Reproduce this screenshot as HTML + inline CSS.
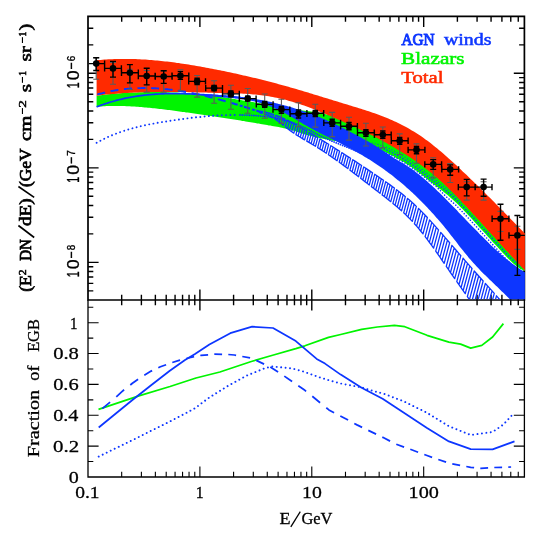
<!DOCTYPE html>
<html><head><meta charset="utf-8"><title>EGB spectrum</title>
<style>html,body{margin:0;padding:0;background:#fff}svg{display:block;will-change:transform}</style></head>
<body>
<svg width="545" height="535" viewBox="0 0 545 535">
<defs>
<clipPath id="ct"><rect x="88.7" y="17.099999999999998" width="436.2" height="282.20000000000005"/></clipPath>
<clipPath id="cb"><rect x="88.0" y="300.0" width="436.4" height="177.0"/></clipPath>
</defs>
<rect width="545" height="535" fill="#fff"/>
<path d="M121.68,16.4v5.3M121.68,294.7v10.6M141.39,16.4v5.3M141.39,294.7v10.6M155.37,16.4v5.3M155.37,294.7v10.6M166.21,16.4v5.3M166.21,294.7v10.6M175.07,16.4v5.3M175.07,294.7v10.6M182.56,16.4v5.3M182.56,294.7v10.6M189.05,16.4v5.3M189.05,294.7v10.6M194.78,16.4v5.3M194.78,294.7v10.6M199.90,16.4v10.6M199.90,289.4v21.2M233.58,16.4v5.3M233.58,294.7v10.6M253.29,16.4v5.3M253.29,294.7v10.6M267.27,16.4v5.3M267.27,294.7v10.6M278.11,16.4v5.3M278.11,294.7v10.6M286.97,16.4v5.3M286.97,294.7v10.6M294.46,16.4v5.3M294.46,294.7v10.6M300.95,16.4v5.3M300.95,294.7v10.6M306.67,16.4v5.3M306.67,294.7v10.6M311.79,16.4v10.6M311.79,289.4v21.2M345.48,16.4v5.3M345.48,294.7v10.6M365.18,16.4v5.3M365.18,294.7v10.6M379.16,16.4v5.3M379.16,294.7v10.6M390.01,16.4v5.3M390.01,294.7v10.6M398.87,16.4v5.3M398.87,294.7v10.6M406.36,16.4v5.3M406.36,294.7v10.6M412.85,16.4v5.3M412.85,294.7v10.6M418.57,16.4v5.3M418.57,294.7v10.6M423.69,16.4v10.6M423.69,289.4v21.2M457.38,16.4v5.3M457.38,294.7v10.6M477.08,16.4v5.3M477.08,294.7v10.6M491.06,16.4v5.3M491.06,294.7v10.6M501.91,16.4v5.3M501.91,294.7v10.6M510.77,16.4v5.3M510.77,294.7v10.6M518.26,16.4v5.3M518.26,294.7v10.6M88.0,290.84h5.3M524.4,290.84h-5.3M88.0,283.35h5.3M524.4,283.35h-5.3M88.0,277.02h5.3M524.4,277.02h-5.3M88.0,271.54h5.3M524.4,271.54h-5.3M88.0,266.71h5.3M524.4,266.71h-5.3M88.0,262.38h10.6M524.4,262.38h-10.6M88.0,233.92h5.3M524.4,233.92h-5.3M88.0,217.28h5.3M524.4,217.28h-5.3M88.0,205.47h5.3M524.4,205.47h-5.3M88.0,196.31h5.3M524.4,196.31h-5.3M88.0,188.82h5.3M524.4,188.82h-5.3M88.0,182.49h5.3M524.4,182.49h-5.3M88.0,177.01h5.3M524.4,177.01h-5.3M88.0,172.17h5.3M524.4,172.17h-5.3M88.0,167.85h10.6M524.4,167.85h-10.6M88.0,139.39h5.3M524.4,139.39h-5.3M88.0,122.74h5.3M524.4,122.74h-5.3M88.0,110.93h5.3M524.4,110.93h-5.3M88.0,101.77h5.3M524.4,101.77h-5.3M88.0,94.29h5.3M524.4,94.29h-5.3M88.0,87.96h5.3M524.4,87.96h-5.3M88.0,82.48h5.3M524.4,82.48h-5.3M88.0,77.64h5.3M524.4,77.64h-5.3M88.0,73.31h10.6M524.4,73.31h-10.6M88.0,44.86h5.3M524.4,44.86h-5.3M88.0,28.21h5.3M524.4,28.21h-5.3" stroke="#000" stroke-width="1.4" fill="none"/>
<path d="M121.68,477.0v-5.3M141.39,477.0v-5.3M155.37,477.0v-5.3M166.21,477.0v-5.3M175.07,477.0v-5.3M182.56,477.0v-5.3M189.05,477.0v-5.3M194.78,477.0v-5.3M199.90,477.0v-10.6M233.58,477.0v-5.3M253.29,477.0v-5.3M267.27,477.0v-5.3M278.11,477.0v-5.3M286.97,477.0v-5.3M294.46,477.0v-5.3M300.95,477.0v-5.3M306.67,477.0v-5.3M311.79,477.0v-10.6M345.48,477.0v-5.3M365.18,477.0v-5.3M379.16,477.0v-5.3M390.01,477.0v-5.3M398.87,477.0v-5.3M406.36,477.0v-5.3M412.85,477.0v-5.3M418.57,477.0v-5.3M423.69,477.0v-10.6M457.38,477.0v-5.3M477.08,477.0v-5.3M491.06,477.0v-5.3M501.91,477.0v-5.3M510.77,477.0v-5.3M518.26,477.0v-5.3M88.0,461.57h5.3M524.4,461.57h-5.3M88.0,446.14h10.6M524.4,446.14h-10.6M88.0,430.71h5.3M524.4,430.71h-5.3M88.0,415.28h10.6M524.4,415.28h-10.6M88.0,399.85h5.3M524.4,399.85h-5.3M88.0,384.42h10.6M524.4,384.42h-10.6M88.0,368.99h5.3M524.4,368.99h-5.3M88.0,353.56h10.6M524.4,353.56h-10.6M88.0,338.13h5.3M524.4,338.13h-5.3M88.0,322.70h10.6M524.4,322.70h-10.6M88.0,307.27h5.3M524.4,307.27h-5.3" stroke="#000" stroke-width="1.1" fill="none"/>
<path d="M88.0,300.0V16.4H524.4V300.0Z" stroke="#000" stroke-width="1.7" fill="none" stroke-linejoin="miter"/>
<g clip-path="url(#ct)">
<path d="M96.6,95.8 L98.6,95.5 L100.6,95.2 L102.6,95.0 L104.6,94.8 L106.6,94.6 L108.6,94.3 L110.6,94.1 L112.6,93.9 L114.6,93.8 L116.6,93.6 L118.6,93.4 L120.6,93.3 L122.6,93.1 L124.6,93.0 L126.7,92.9 L128.7,92.7 L130.7,92.6 L132.7,92.5 L134.7,92.4 L136.7,92.4 L138.7,92.3 L140.7,92.2 L142.7,92.2 L144.7,92.1 L146.7,92.1 L148.7,92.1 L150.7,92.1 L152.7,92.0 L154.7,92.0 L156.7,92.1 L158.7,92.1 L160.7,92.1 L162.7,92.1 L164.7,92.2 L166.7,92.2 L168.7,92.3 L170.7,92.4 L172.7,92.5 L174.7,92.5 L176.7,92.6 L178.7,92.7 L180.7,92.9 L182.7,93.0 L184.7,93.1 L186.8,93.3 L188.8,93.4 L190.8,93.6 L192.8,93.7 L194.8,93.9 L196.8,94.1 L198.8,94.3 L200.8,94.5 L202.8,94.7 L204.8,94.9 L206.8,95.1 L208.8,95.4 L210.8,95.6 L212.8,95.8 L214.8,96.1 L216.8,96.4 L218.8,96.6 L220.8,96.9 L222.8,97.2 L224.8,97.5 L226.8,97.8 L228.8,98.1 L230.8,98.4 L232.8,98.7 L234.8,99.0 L236.8,99.4 L238.8,99.7 L240.8,100.0 L242.8,100.4 L244.8,100.7 L246.9,101.0 L248.9,101.4 L250.9,101.7 L252.9,102.1 L254.9,102.4 L256.9,102.8 L258.9,103.1 L260.9,103.5 L262.9,103.8 L264.9,104.2 L266.9,104.5 L268.9,104.9 L270.9,105.2 L272.9,105.6 L274.9,105.9 L276.9,106.3 L278.9,106.6 L280.9,107.0 L282.9,107.3 L284.9,107.6 L286.9,108.0 L288.9,108.3 L290.9,108.6 L292.9,108.9 L294.9,109.3 L296.9,109.6 L298.9,109.9 L300.9,110.2 L302.9,110.4 L304.9,110.7 L307.0,111.0 L309.0,111.3 L311.0,111.5 L313.0,111.8 L315.0,112.1 L317.0,112.4 L319.0,112.7 L321.0,113.0 L323.0,113.4 L325.0,113.9 L327.0,114.4 L329.0,114.9 L331.0,115.6 L333.0,116.3 L335.0,117.1 L335.0,116.9 L336.2,117.4 L337.4,118.0 L338.6,118.5 L339.8,119.0 L341.0,119.5 L342.2,120.1 L343.4,120.6 L344.6,121.1 L345.8,121.7 L347.0,122.2 L348.2,122.8 L349.4,123.3 L350.6,123.9 L351.8,124.4 L353.0,125.0 L354.2,125.5 L355.4,126.1 L356.6,126.7 L357.8,127.2 L358.9,127.8 L360.1,128.4 L361.3,128.9 L362.5,129.5 L363.7,130.1 L364.9,130.7 L366.1,131.3 L367.3,131.9 L368.5,132.5 L369.7,133.1 L370.9,133.7 L372.1,134.3 L373.3,134.9 L374.5,135.5 L375.7,136.2 L376.9,136.8 L378.1,137.4 L379.3,138.0 L380.5,138.7 L381.7,139.3 L382.9,140.0 L384.1,140.6 L385.3,141.3 L386.5,141.9 L387.7,142.6 L388.9,143.3 L390.1,144.0 L391.3,144.6 L392.5,145.3 L393.7,146.0 L394.9,146.7 L396.1,147.4 L397.3,148.2 L398.5,148.9 L399.7,149.6 L400.9,150.3 L402.1,151.1 L403.3,151.8 L404.5,152.6 L405.7,153.3 L406.8,154.1 L408.0,154.9 L409.2,155.7 L410.4,156.5 L411.6,157.3 L412.8,158.1 L414.0,158.9 L415.2,159.7 L416.4,160.6 L417.6,161.4 L418.8,162.3 L420.0,163.1 L421.2,164.0 L422.4,164.9 L423.6,165.8 L424.8,166.7 L426.0,167.6 L427.2,168.5 L428.4,169.5 L429.6,170.4 L430.8,171.4 L432.0,172.4 L433.2,173.4 L434.4,174.4 L435.6,175.4 L436.8,176.4 L438.0,177.5 L439.2,178.5 L440.4,179.6 L441.6,180.7 L442.8,181.8 L444.0,182.9 L445.2,184.0 L446.4,185.1 L447.6,186.3 L448.8,187.5 L450.0,188.6 L451.2,189.8 L452.4,191.0 L453.6,192.2 L454.7,193.4 L455.9,194.6 L457.1,195.9 L458.3,197.1 L459.5,198.3 L460.7,199.6 L461.9,200.8 L463.1,202.1 L464.3,203.4 L465.5,204.7 L466.7,205.9 L467.9,207.2 L469.1,208.5 L470.3,209.8 L471.5,211.1 L472.7,212.4 L473.9,213.7 L475.1,215.0 L476.3,216.3 L477.5,217.7 L478.7,219.0 L479.9,220.3 L481.1,221.6 L482.3,222.9 L483.5,224.2 L484.7,225.6 L485.9,226.9 L487.1,228.2 L488.3,229.5 L489.5,230.9 L490.7,232.2 L491.9,233.5 L493.1,234.8 L494.3,236.2 L495.5,237.5 L496.7,238.8 L497.9,240.1 L499.1,241.4 L500.3,242.7 L501.5,244.0 L502.6,245.4 L503.8,246.7 L505.0,248.0 L506.2,249.3 L507.4,250.6 L508.6,251.9 L509.8,253.2 L511.0,254.4 L512.2,255.7 L513.4,257.0 L514.6,258.3 L515.8,259.6 L517.0,260.9 L518.2,262.2 L519.4,263.5 L520.6,264.7 L521.8,266.0 L523.0,267.3 L524.2,268.6 L525.4,269.9 L525.4,271.1 L523.7,270.5 L522.1,269.8 L520.4,268.9 L518.8,267.8 L517.1,266.6 L515.5,265.3 L513.8,263.9 L512.2,262.4 L510.5,260.8 L508.8,259.2 L507.2,257.5 L505.5,255.7 L503.9,253.9 L502.2,252.2 L500.6,250.4 L498.9,248.6 L497.3,246.8 L495.6,245.0 L493.9,243.2 L492.3,241.4 L490.6,239.6 L489.0,237.7 L487.3,235.9 L485.7,234.1 L484.0,232.3 L482.4,230.5 L480.7,228.7 L479.0,226.9 L477.4,225.1 L475.7,223.2 L474.1,221.4 L472.4,219.6 L470.8,217.8 L469.1,216.0 L467.5,214.3 L465.8,212.5 L464.1,210.8 L462.5,209.1 L460.8,207.4 L459.2,205.7 L457.5,204.1 L455.9,202.5 L454.2,200.9 L452.6,199.4 L450.9,197.9 L449.2,196.5 L447.6,195.1 L445.9,193.7 L444.3,192.4 L442.6,191.1 L441.0,189.8 L439.3,188.5 L437.7,187.2 L436.0,186.0 L434.3,184.7 L432.7,183.4 L431.0,182.2 L429.4,180.9 L427.7,179.5 L426.1,178.2 L424.4,176.9 L422.8,175.6 L421.1,174.3 L419.4,173.0 L417.8,171.7 L416.1,170.5 L414.5,169.2 L412.8,168.1 L411.2,166.9 L409.5,165.8 L407.9,164.7 L406.2,163.7 L404.5,162.6 L402.9,161.6 L401.2,160.7 L399.6,159.7 L397.9,158.8 L396.3,157.9 L394.6,157.0 L393.0,156.1 L391.3,155.2 L389.6,154.4 L388.0,153.6 L386.3,152.8 L384.7,152.1 L383.0,151.5 L381.4,151.0 L379.7,150.5 L378.1,150.0 L376.4,149.6 L374.7,149.2 L373.1,148.9 L371.4,148.5 L369.8,148.2 L368.1,147.8 L366.5,147.4 L364.8,147.1 L363.2,146.7 L361.5,146.3 L359.8,146.0 L358.2,145.6 L356.5,145.2 L354.9,144.9 L353.2,144.5 L351.6,144.2 L349.9,143.8 L348.3,143.5 L346.6,143.1 L344.9,142.8 L343.3,142.5 L341.6,142.2 L340.0,141.9 L338.3,141.6 L336.7,141.3 L335.0,141.0 L333.4,140.7 L331.7,140.4 L330.0,140.1 L328.4,139.8 L326.7,139.5 L325.1,139.2 L323.4,138.8 L321.8,138.5 L320.1,138.2 L318.5,137.8 L316.8,137.5 L315.1,137.1 L313.5,136.7 L311.8,136.3 L310.2,135.8 L308.5,135.4 L306.9,134.9 L305.2,134.4 L303.5,133.9 L301.9,133.4 L300.2,132.8 L298.6,132.3 L296.9,131.7 L295.3,131.2 L293.6,130.7 L292.0,130.2 L290.3,129.8 L288.6,129.3 L287.0,128.9 L285.3,128.5 L283.7,128.2 L282.0,127.8 L280.4,127.5 L278.7,127.1 L277.1,126.8 L275.4,126.5 L273.7,126.2 L272.1,125.9 L270.4,125.6 L268.8,125.4 L267.1,125.1 L265.5,124.8 L263.8,124.5 L262.2,124.2 L260.5,123.9 L258.8,123.6 L257.2,123.4 L255.5,123.1 L253.9,122.8 L252.2,122.5 L250.6,122.2 L248.9,122.0 L247.3,121.7 L245.6,121.4 L243.9,121.1 L242.3,120.9 L240.6,120.6 L239.0,120.3 L237.3,120.1 L235.7,119.8 L234.0,119.5 L232.4,119.3 L230.7,119.0 L229.0,118.7 L227.4,118.5 L225.7,118.2 L224.1,118.0 L222.4,117.7 L220.8,117.5 L219.1,117.2 L217.5,116.9 L215.8,116.7 L214.1,116.4 L212.5,116.2 L210.8,115.9 L209.2,115.7 L207.5,115.4 L205.9,115.2 L204.2,115.0 L202.6,114.7 L200.9,114.5 L199.2,114.2 L197.6,114.0 L195.9,113.8 L194.3,113.5 L192.6,113.3 L191.0,113.0 L189.3,112.8 L187.7,112.6 L186.0,112.4 L184.3,112.1 L182.7,111.9 L181.0,111.7 L179.4,111.4 L177.7,111.2 L176.1,111.0 L174.4,110.8 L172.8,110.6 L171.1,110.3 L169.4,110.1 L167.8,109.9 L166.1,109.7 L164.5,109.5 L162.8,109.3 L161.2,109.1 L159.5,108.9 L157.9,108.7 L156.2,108.5 L154.5,108.3 L152.9,108.2 L151.2,108.0 L149.6,107.8 L147.9,107.7 L146.3,107.5 L144.6,107.4 L143.0,107.2 L141.3,107.1 L139.6,107.0 L138.0,106.8 L136.3,106.7 L134.7,106.6 L133.0,106.5 L131.4,106.4 L129.7,106.3 L128.1,106.3 L126.4,106.2 L124.7,106.1 L123.1,106.1 L121.4,106.0 L119.8,106.0 L118.1,106.0 L116.5,106.0 L114.8,106.0 L113.2,106.0 L111.5,106.0 L109.8,106.0 L108.2,106.1 L106.5,106.1 L104.9,106.2 L103.2,106.3 L101.6,106.4 L99.9,106.5 L98.3,106.6 L96.6,106.7Z" fill="#00f400"/>
<path d="M372.1,143.1 L372.6,143.2 L373.2,143.3 L373.7,143.4 L374.3,143.5 L374.8,143.7 L375.3,143.8 L375.9,143.9 L376.4,144.0 L377.0,144.2 L377.5,144.3 L378.0,144.4 L378.6,144.6 L379.1,144.7 L379.7,144.9 L380.2,145.0 L380.7,145.2 L381.3,145.4 L381.8,145.5 L382.4,145.7 L382.9,145.9 L383.4,146.1 L384.0,146.3 L384.5,146.5 L385.1,146.7 L385.6,146.9 L386.1,147.1 L386.7,147.4 L387.2,147.6 L387.8,147.9 L388.3,148.1 L388.8,148.4 L389.4,148.6 L389.9,148.9 L390.5,149.2 L391.0,149.4 L391.5,149.7 L392.1,150.0 L392.6,150.3 L393.1,150.6 L393.7,150.9 L394.2,151.2 L394.8,151.5 L395.3,151.8 L395.8,152.1 L396.4,152.4 L396.9,152.6 L397.5,153.0 L398.0,153.3 L398.5,153.6 L399.1,153.9 L399.6,154.2 L400.2,154.5 L400.7,154.8 L401.2,155.1 L401.8,155.4 L402.3,155.7 L402.9,156.0 L403.4,156.4 L403.9,156.7 L404.5,157.0 L405.0,157.3 L405.6,157.7 L406.1,158.0 L406.6,158.3 L407.2,158.7 L407.7,159.0 L408.3,159.4 L408.8,159.7 L409.3,160.1 L409.9,160.4 L410.4,160.8 L411.0,161.2 L411.5,161.5 L412.0,161.9 L412.6,162.3 L413.1,162.7 L413.7,163.1 L414.2,163.4 L414.7,163.8 L415.3,164.2 L415.8,164.6 L416.4,165.0 L416.9,165.4 L417.4,165.9 L418.0,166.3 L418.5,166.7 L419.1,167.1 L419.6,167.5 L420.1,167.9 L420.7,168.4 L421.2,168.8 L421.8,169.2 L422.3,169.6 L422.8,170.1 L423.4,170.5 L423.9,170.9 L424.5,171.3 L425.0,171.8 L425.5,172.2 L426.1,172.6 L426.6,173.1 L427.2,173.5 L427.7,173.9 L428.2,174.4 L428.8,174.8 L429.3,175.2 L429.9,175.6 L430.4,176.1 L430.9,176.5 L431.5,176.9 L432.0,177.3 L432.6,177.7 L433.1,178.2 L433.6,178.6 L434.2,179.0 L434.7,179.4 L435.3,179.8 L435.8,180.2 L436.3,180.6 L436.9,181.0 L437.4,181.5 L438.0,181.9 L438.5,182.3 L439.0,182.7 L439.6,183.1 L440.1,183.5 L440.7,183.9 L441.2,184.4 L441.7,184.8 L442.3,185.2 L442.8,185.6 L443.4,186.0 L443.9,186.5 L444.4,186.9 L445.0,187.3 L445.5,187.8 L446.0,188.2 L446.6,188.6 L447.1,189.1 L447.7,189.5 L448.2,190.0 L448.7,190.4 L449.3,190.9 L449.8,191.4 L450.4,191.8 L450.9,192.3 L451.4,192.8 L452.0,193.3 L452.5,193.8 L453.1,194.3 L453.6,194.8 L454.1,195.3 L454.7,195.8 L455.2,196.3 L455.8,196.8 L456.3,197.3 L456.8,197.8 L457.4,198.4 L457.9,198.9 L458.5,199.4 L459.0,200.0 L459.5,200.5 L460.1,201.0 L460.6,201.6 L461.2,202.1 L461.7,202.7" fill="none" stroke="#0d36ff" stroke-width="1.1" stroke-linecap="round" stroke-dasharray="0.01,3.0" stroke-dashoffset="-0.00"/>
<path d="M368.3,144.8 L368.9,145.0 L369.4,145.1 L369.9,145.2 L370.5,145.3 L371.0,145.4 L371.6,145.5 L372.1,145.7 L372.6,145.8 L373.2,145.9 L373.7,146.0 L374.3,146.1 L374.8,146.3 L375.3,146.4 L375.9,146.5 L376.4,146.6 L377.0,146.8 L377.5,146.9 L378.0,147.0 L378.6,147.2 L379.1,147.3 L379.7,147.5 L380.2,147.6 L380.7,147.8 L381.3,148.0 L381.8,148.1 L382.4,148.3 L382.9,148.5 L383.4,148.7 L384.0,148.9 L384.5,149.1 L385.1,149.3 L385.6,149.5 L386.1,149.7 L386.7,150.0 L387.2,150.2 L387.8,150.5 L388.3,150.7 L388.8,151.0 L389.4,151.2 L389.9,151.5 L390.5,151.8 L391.0,152.0 L391.5,152.3 L392.1,152.6 L392.6,152.9 L393.1,153.2 L393.7,153.5 L394.2,153.8 L394.8,154.1 L395.3,154.4 L395.8,154.7 L396.4,155.0 L396.9,155.2 L397.5,155.6 L398.0,155.9 L398.5,156.2 L399.1,156.5 L399.6,156.8 L400.2,157.1 L400.7,157.4 L401.2,157.7 L401.8,158.0 L402.3,158.3 L402.9,158.6 L403.4,159.0 L403.9,159.3 L404.5,159.6 L405.0,159.9 L405.6,160.3 L406.1,160.6 L406.6,160.9 L407.2,161.3 L407.7,161.6 L408.3,162.0 L408.8,162.3 L409.3,162.7 L409.9,163.0 L410.4,163.4 L411.0,163.8 L411.5,164.1 L412.0,164.5 L412.6,164.9 L413.1,165.3 L413.7,165.7 L414.2,166.0 L414.7,166.4 L415.3,166.8 L415.8,167.2 L416.4,167.6 L416.9,168.0 L417.4,168.5 L418.0,168.9 L418.5,169.3 L419.1,169.7 L419.6,170.1 L420.1,170.5 L420.7,171.0 L421.2,171.4 L421.8,171.8 L422.3,172.2 L422.8,172.7 L423.4,173.1 L423.9,173.5 L424.5,173.9 L425.0,174.4 L425.5,174.8 L426.1,175.2 L426.6,175.7 L427.2,176.1 L427.7,176.5 L428.2,177.0 L428.8,177.4 L429.3,177.8 L429.9,178.2 L430.4,178.7 L430.9,179.1 L431.5,179.5 L432.0,179.9 L432.6,180.3 L433.1,180.8 L433.6,181.2 L434.2,181.6 L434.7,182.0 L435.3,182.4 L435.8,182.8 L436.3,183.2 L436.9,183.6 L437.4,184.1 L438.0,184.5 L438.5,184.9 L439.0,185.3 L439.6,185.7 L440.1,186.1 L440.7,186.5 L441.2,187.0 L441.7,187.4 L442.3,187.8 L442.8,188.2 L443.4,188.6 L443.9,189.1 L444.4,189.5 L445.0,189.9 L445.5,190.4 L446.0,190.8 L446.6,191.2 L447.1,191.7 L447.7,192.1 L448.2,192.6 L448.7,193.0 L449.3,193.5 L449.8,194.0 L450.4,194.4 L450.9,194.9 L451.4,195.4 L452.0,195.9 L452.5,196.4 L453.1,196.9 L453.6,197.4 L454.1,197.9 L454.7,198.4 L455.2,198.9 L455.8,199.4 L456.3,199.9 L456.8,200.4 L457.4,201.0 L457.9,201.5 L458.5,202.0 L459.0,202.6 L459.5,203.1 L460.1,203.6 L460.6,204.2 L461.2,204.7 L461.7,205.3 L462.2,205.8 L462.8,206.4 L463.3,206.9 L463.9,207.5 L464.4,208.1 L464.9,208.6 L465.5,209.2 L466.0,209.8 L466.6,210.3 L467.1,210.9 L467.6,211.5 L468.2,212.1 L468.7,212.6 L469.3,213.2 L469.8,213.8 L470.3,214.4 L470.9,215.0 L471.4,215.5 L472.0,216.1 L472.5,216.7 L473.0,217.3 L473.6,217.9 L474.1,218.5 L474.7,219.1 L475.2,219.7 L475.7,220.3 L476.3,220.8 L476.8,221.4 L477.4,222.0 L477.9,222.6 L478.4,223.2 L479.0,223.8 L479.5,224.4 L480.1,225.0 L480.6,225.6 L481.1,226.2 L481.7,226.8 L482.2,227.4 L482.8,227.9 L483.3,228.5 L483.8,229.1 L484.4,229.7 L484.9,230.3 L485.5,230.9 L486.0,231.5 L486.5,232.1 L487.1,232.7 L487.6,233.3 L488.2,233.8 L488.7,234.4 L489.2,235.0 L489.8,235.6 L490.3,236.2 L490.9,236.8 L491.4,237.4 L491.9,238.0 L492.5,238.6 L493.0,239.1 L493.6,239.7 L494.1,240.3 L494.6,240.9 L495.2,241.5 L495.7,242.1 L496.3,242.7 L496.8,243.3 L497.3,243.8 L497.9,244.4 L498.4,245.0 L498.9,245.6 L499.5,246.2 L500.0,246.8 L500.6,247.4 L501.1,247.9 L501.6,248.5 L502.2,249.1 L502.7,249.7 L503.3,250.3 L503.8,250.9 L504.3,251.5 L504.9,252.0 L505.4,252.6 L506.0,253.2 L506.5,253.8 L507.0,254.3 L507.6,254.9 L508.1,255.4 L508.7,256.0 L509.2,256.5 L509.7,257.1 L510.3,257.6 L510.8,258.1 L511.4,258.7 L511.9,259.2 L512.4,259.7 L513.0,260.2 L513.5,260.7 L514.1,261.1 L514.6,261.6 L515.1,262.1 L515.7,262.5 L516.2,262.9 L516.8,263.3 L517.3,263.8 L517.8,264.2 L518.4,264.5 L518.9,264.9 L519.5,265.3 L520.0,265.6 L520.5,265.9 L521.1,266.2 L521.6,266.5 L522.2,266.8 L522.7,267.1 L523.2,267.3 L523.8,267.5 L524.3,267.7 L524.9,267.9 L525.4,268.1" fill="none" stroke="#0d36ff" stroke-width="1.55" stroke-linecap="round" stroke-dasharray="0.01,3.0" stroke-dashoffset="-1.50"/>
<path d="M366.2,147.7 L366.7,147.8 L367.2,147.9 L367.8,148.0 L368.3,148.1 L368.9,148.3 L369.4,148.4 L369.9,148.5 L370.5,148.6 L371.0,148.7 L371.6,148.8 L372.1,149.0 L372.6,149.1 L373.2,149.2 L373.7,149.3 L374.3,149.4 L374.8,149.6 L375.3,149.7 L375.9,149.8 L376.4,149.9 L377.0,150.1 L377.5,150.2 L378.0,150.3 L378.6,150.5 L379.1,150.6 L379.7,150.8 L380.2,150.9 L380.7,151.1 L381.3,151.3 L381.8,151.4 L382.4,151.6 L382.9,151.8 L383.4,152.0 L384.0,152.2 L384.5,152.4 L385.1,152.6 L385.6,152.8 L386.1,153.0 L386.7,153.3 L387.2,153.5 L387.8,153.8 L388.3,154.0 L388.8,154.3 L389.4,154.5 L389.9,154.8 L390.5,155.1 L391.0,155.3 L391.5,155.6 L392.1,155.9 L392.6,156.2 L393.1,156.5 L393.7,156.8 L394.2,157.1 L394.8,157.4 L395.3,157.7 L395.8,158.0 L396.4,158.3 L396.9,158.5 L397.5,158.9 L398.0,159.2 L398.5,159.5 L399.1,159.8 L399.6,160.1 L400.2,160.4 L400.7,160.7 L401.2,161.0 L401.8,161.3 L402.3,161.6 L402.9,161.9 L403.4,162.3 L403.9,162.6 L404.5,162.9 L405.0,163.2 L405.6,163.6 L406.1,163.9 L406.6,164.2 L407.2,164.6 L407.7,164.9 L408.3,165.3 L408.8,165.6 L409.3,166.0 L409.9,166.3 L410.4,166.7 L411.0,167.1 L411.5,167.4 L412.0,167.8 L412.6,168.2 L413.1,168.6 L413.7,169.0 L414.2,169.3 L414.7,169.7 L415.3,170.1 L415.8,170.5 L416.4,170.9 L416.9,171.3 L417.4,171.8 L418.0,172.2 L418.5,172.6 L419.1,173.0 L419.6,173.4 L420.1,173.8 L420.7,174.3 L421.2,174.7 L421.8,175.1 L422.3,175.5 L422.8,176.0 L423.4,176.4 L423.9,176.8 L424.5,177.2 L425.0,177.7 L425.5,178.1 L426.1,178.5 L426.6,179.0 L427.2,179.4 L427.7,179.8 L428.2,180.3 L428.8,180.7 L429.3,181.1 L429.9,181.5 L430.4,182.0 L430.9,182.4 L431.5,182.8 L432.0,183.2 L432.6,183.6 L433.1,184.1 L433.6,184.5 L434.2,184.9 L434.7,185.3 L435.3,185.7 L435.8,186.1 L436.3,186.6 L436.9,187.2 L437.4,187.7 L438.0,188.3 L438.5,188.8 L439.0,189.4 L439.6,189.9 L440.1,190.4 L440.7,191.0 L441.2,191.6 L441.7,192.1 L442.3,192.7 L442.8,193.2 L443.4,193.8 L443.9,194.3 L444.4,194.9 L445.0,195.5 L445.5,196.0 L446.0,196.6 L446.6,197.0 L447.1,197.5 L447.7,197.9 L448.2,198.4 L448.7,198.8 L449.3,199.3 L449.8,199.8 L450.4,200.2 L450.9,200.7 L451.4,201.2 L452.0,201.7 L452.5,202.2 L453.1,202.7 L453.6,203.2 L454.1,203.7 L454.7,204.2 L455.2,204.7 L455.8,205.2 L456.3,205.7 L456.8,206.2 L457.4,206.8 L457.9,207.3 L458.5,207.8 L459.0,208.4 L459.5,208.9 L460.1,209.4 L460.6,210.0 L461.2,210.5 L461.7,211.1 L462.2,211.6 L462.8,212.2 L463.3,212.7 L463.9,213.3 L464.4,213.9 L464.9,214.4 L465.5,215.0 L466.0,215.6 L466.6,216.1 L467.1,216.7 L467.6,217.3 L468.2,217.9 L468.7,218.4 L469.3,219.0 L469.8,219.6 L470.3,220.2 L470.9,220.8 L471.4,221.3 L472.0,221.9 L472.5,222.5 L473.0,223.1 L473.6,223.7 L474.1,224.3 L474.7,224.9 L475.2,225.5 L475.7,226.1 L476.3,226.6 L476.8,227.2 L477.4,227.8 L477.9,228.4 L478.4,229.0 L479.0,229.6 L479.5,230.2 L480.1,230.8 L480.6,231.4 L481.1,232.0 L481.7,232.6 L482.2,233.2 L482.8,233.7 L483.3,234.3 L483.8,234.9 L484.4,235.5 L484.9,236.1 L485.5,236.7 L486.0,237.3 L486.5,237.9 L487.1,238.5 L487.6,239.1 L488.2,239.6 L488.7,240.2 L489.2,240.8 L489.8,241.4 L490.3,242.0 L490.9,242.6 L491.4,243.2 L491.9,243.8 L492.5,244.4 L493.0,244.9 L493.6,245.5 L494.1,246.1 L494.6,246.7 L495.2,247.3 L495.7,247.9 L496.3,248.5 L496.8,249.1 L497.3,249.6 L497.9,250.2 L498.4,250.8 L498.9,251.4 L499.5,252.0 L500.0,252.6 L500.6,253.2 L501.1,253.7 L501.6,254.3 L502.2,254.9 L502.7,255.5 L503.3,256.1 L503.8,256.7 L504.3,257.3 L504.9,257.8 L505.4,258.4 L506.0,259.0 L506.5,259.6 L507.0,260.1 L507.6,260.7 L508.1,261.2 L508.7,261.8 L509.2,262.3 L509.7,262.9 L510.3,263.4 L510.8,263.9 L511.4,264.5 L511.9,265.0 L512.4,265.5 L513.0,266.0 L513.5,266.5 L514.1,266.9 L514.6,267.4 L515.1,267.9 L515.7,268.3 L516.2,268.7 L516.8,269.1 L517.3,269.6 L517.8,270.0 L518.4,270.3 L518.9,270.7 L519.5,271.1 L520.0,271.4 L520.5,271.7 L521.1,272.0 L521.6,272.3 L522.2,272.6 L522.7,272.9 L523.2,273.1 L523.8,273.3 L524.3,273.5 L524.9,273.7 L525.4,273.9" fill="none" stroke="#0d36ff" stroke-width="1.55" stroke-linecap="round" stroke-dasharray="0.01,3.0" stroke-dashoffset="-3.00"/>
<path d="M96.6,60.3 L98.6,60.1 L100.5,59.9 L102.5,59.7 L104.4,59.6 L106.4,59.5 L108.3,59.3 L110.3,59.2 L112.3,59.2 L114.2,59.1 L116.2,59.0 L118.1,59.0 L120.1,58.9 L122.1,58.9 L124.0,58.9 L126.0,58.9 L127.9,58.9 L129.9,59.0 L131.8,59.0 L133.8,59.1 L135.8,59.1 L137.7,59.2 L139.7,59.3 L141.6,59.4 L143.6,59.5 L145.5,59.6 L147.5,59.7 L149.5,59.9 L151.4,60.0 L153.4,60.2 L155.3,60.4 L157.3,60.6 L159.3,60.7 L161.2,60.9 L163.2,61.2 L165.1,61.4 L167.1,61.6 L169.0,61.8 L171.0,62.1 L173.0,62.3 L174.9,62.6 L176.9,62.9 L178.8,63.1 L180.8,63.4 L182.8,63.7 L184.7,64.0 L186.7,64.3 L188.6,64.6 L190.6,64.9 L192.5,65.3 L194.5,65.6 L196.5,65.9 L198.4,66.3 L200.4,66.6 L202.3,67.0 L204.3,67.3 L206.2,67.7 L208.2,68.0 L210.2,68.4 L212.1,68.8 L214.1,69.2 L216.0,69.5 L218.0,69.9 L220.0,70.3 L221.9,70.7 L223.9,71.1 L225.8,71.5 L227.8,71.9 L229.7,72.3 L231.7,72.8 L233.7,73.2 L235.6,73.6 L237.6,74.1 L239.5,74.5 L241.5,74.9 L243.4,75.4 L245.4,75.8 L247.4,76.3 L249.3,76.7 L251.3,77.2 L253.2,77.7 L255.2,78.1 L257.2,78.6 L259.1,79.1 L261.1,79.6 L263.0,80.1 L265.0,80.6 L266.9,81.1 L268.9,81.6 L270.9,82.1 L272.8,82.6 L274.8,83.1 L276.7,83.6 L278.7,84.2 L280.7,84.7 L282.6,85.2 L284.6,85.8 L286.5,86.3 L288.5,86.8 L290.4,87.4 L292.4,88.0 L294.4,88.5 L296.3,89.1 L298.3,89.7 L300.2,90.2 L302.2,90.8 L304.1,91.4 L306.1,92.0 L308.1,92.6 L310.0,93.2 L312.0,93.8 L313.9,94.4 L315.9,95.0 L317.9,95.6 L319.8,96.2 L321.8,96.8 L323.7,97.4 L325.7,98.0 L327.6,98.6 L329.6,99.2 L331.6,99.8 L333.5,100.4 L335.5,101.0 L337.4,101.6 L339.4,102.2 L341.3,102.8 L343.3,103.4 L345.3,104.0 L347.2,104.6 L349.2,105.2 L351.1,105.8 L353.1,106.4 L355.1,107.0 L357.0,107.6 L359.0,108.2 L360.9,108.8 L362.9,109.4 L364.8,110.0 L366.8,110.7 L368.8,111.3 L370.7,112.0 L372.7,112.7 L374.6,113.3 L376.6,114.0 L378.6,114.8 L380.5,115.5 L382.5,116.2 L384.4,117.0 L386.4,117.8 L388.3,118.6 L390.3,119.4 L392.3,120.3 L394.2,121.2 L396.2,122.1 L398.1,123.0 L400.1,124.0 L402.0,125.0 L404.0,126.0 L406.0,127.0 L407.9,128.1 L409.9,129.2 L411.8,130.4 L413.8,131.5 L415.8,132.7 L417.7,134.0 L419.7,135.3 L421.6,136.6 L423.6,138.0 L425.5,139.4 L427.5,140.8 L429.5,142.3 L431.4,143.8 L433.4,145.4 L435.3,146.9 L437.3,148.5 L439.2,150.2 L441.2,151.8 L443.2,153.5 L445.1,155.2 L447.1,156.9 L449.0,158.7 L451.0,160.5 L453.0,162.2 L454.9,164.0 L456.9,165.8 L458.8,167.7 L460.8,169.5 L462.7,171.4 L464.7,173.2 L466.7,175.1 L468.6,177.0 L470.6,178.9 L472.5,180.8 L474.5,182.7 L476.5,184.6 L478.4,186.5 L480.4,188.4 L482.3,190.4 L484.3,192.3 L486.2,194.2 L488.2,196.2 L490.2,198.1 L492.1,200.1 L494.1,202.0 L496.0,204.0 L498.0,206.0 L499.9,208.0 L501.9,209.9 L503.9,211.9 L505.8,213.9 L507.8,215.9 L509.7,217.9 L511.7,219.9 L513.7,221.9 L515.6,223.9 L517.6,225.9 L519.5,227.9 L521.5,229.9 L523.4,231.9 L525.4,233.9 L525.4,271.1 L523.4,269.0 L521.5,266.9 L519.5,264.8 L517.6,262.7 L515.6,260.6 L513.7,258.5 L511.7,256.4 L509.7,254.3 L507.8,252.1 L505.8,250.0 L503.9,247.9 L501.9,245.7 L499.9,243.6 L498.0,241.5 L496.0,239.3 L494.1,237.1 L492.1,235.0 L490.2,232.8 L488.2,230.7 L486.2,228.5 L484.3,226.3 L482.3,224.2 L480.4,222.0 L478.4,219.8 L476.5,217.7 L474.5,215.6 L472.5,213.4 L470.6,211.3 L468.6,209.2 L466.7,207.1 L464.7,205.0 L462.7,202.9 L460.8,200.8 L458.8,198.8 L456.9,196.8 L454.9,194.8 L453.0,192.8 L451.0,190.8 L449.0,188.9 L447.1,187.0 L445.1,185.2 L443.2,183.3 L441.2,181.5 L439.2,179.8 L437.3,178.1 L435.3,176.4 L433.4,174.7 L431.4,173.1 L429.5,171.5 L427.5,170.0 L425.5,168.5 L423.6,167.0 L421.6,165.5 L419.7,164.1 L417.7,162.7 L415.8,161.3 L413.8,159.9 L411.8,158.6 L409.9,157.3 L407.9,156.0 L406.0,154.7 L404.0,153.5 L402.0,152.3 L400.1,151.1 L398.1,149.9 L396.2,148.7 L394.2,147.5 L392.3,146.4 L390.3,145.3 L388.3,144.2 L386.4,143.1 L384.4,142.0 L382.5,140.9 L380.5,139.9 L378.6,138.8 L376.6,137.8 L374.6,136.8 L372.7,135.8 L370.7,134.8 L368.8,133.8 L366.8,132.8 L364.8,131.9 L362.9,130.9 L360.9,129.9 L359.0,129.0 L357.0,128.1 L355.1,127.2 L353.1,126.2 L351.1,125.3 L349.2,124.4 L347.2,123.5 L345.3,122.7 L343.3,121.8 L341.3,120.9 L339.4,120.0 L337.4,119.2 L335.5,118.3 L333.5,117.5 L331.6,116.6 L329.6,115.8 L327.6,114.9 L325.7,114.1 L323.7,113.3 L321.8,112.5 L319.8,111.7 L317.9,110.9 L315.9,110.1 L313.9,109.3 L312.0,108.5 L310.0,107.8 L308.1,107.0 L306.1,106.3 L304.1,105.6 L302.2,104.9 L300.2,104.3 L298.3,103.6 L296.3,103.0 L294.4,102.4 L292.4,101.8 L290.4,101.2 L288.5,100.7 L286.5,100.1 L284.6,99.6 L282.6,99.2 L280.7,98.7 L278.7,98.3 L276.7,97.8 L274.8,97.4 L272.8,97.0 L270.9,96.7 L268.9,96.3 L266.9,96.0 L265.0,95.7 L263.0,95.4 L261.1,95.2 L259.1,95.0 L257.2,94.7 L255.2,94.5 L253.2,94.4 L251.3,94.2 L249.3,94.1 L247.4,93.9 L245.4,93.8 L243.4,93.7 L241.5,93.6 L239.5,93.5 L237.6,93.4 L235.6,93.4 L233.7,93.3 L231.7,93.3 L229.7,93.2 L227.8,93.2 L225.8,93.1 L223.9,93.1 L221.9,93.0 L220.0,93.0 L218.0,93.0 L216.0,92.9 L214.1,92.9 L212.1,92.8 L210.2,92.8 L208.2,92.7 L206.2,92.6 L204.3,92.6 L202.3,92.5 L200.4,92.5 L198.4,92.4 L196.5,92.4 L194.5,92.3 L192.5,92.3 L190.6,92.2 L188.6,92.2 L186.7,92.1 L184.7,92.1 L182.8,92.1 L180.8,92.0 L178.8,92.0 L176.9,92.0 L174.9,91.9 L173.0,91.9 L171.0,91.9 L169.0,91.9 L167.1,91.9 L165.1,91.9 L163.2,91.9 L161.2,91.9 L159.3,91.9 L157.3,91.9 L155.3,91.9 L153.4,92.0 L151.4,92.0 L149.5,92.0 L147.5,92.1 L145.5,92.1 L143.6,92.2 L141.6,92.2 L139.7,92.3 L137.7,92.4 L135.8,92.5 L133.8,92.6 L131.8,92.7 L129.9,92.8 L127.9,92.9 L126.0,93.0 L124.0,93.1 L122.1,93.2 L120.1,93.4 L118.1,93.5 L116.2,93.7 L114.2,93.9 L112.3,94.0 L110.3,94.2 L108.3,94.4 L106.4,94.6 L104.4,94.8 L102.5,95.0 L100.5,95.2 L98.6,95.5 L96.6,95.7Z" fill="#ff2a00"/>
<path d="M96.6,142.8 L97.5,142.3 L98.4,141.8 L99.3,141.3 L100.2,140.9 L101.0,140.4 L101.9,139.9 L102.8,139.5 L103.7,139.0 L104.6,138.6 L105.5,138.2 L106.4,137.8 L107.3,137.3 L108.2,136.9 L109.1,136.5 L109.9,136.2 L110.8,135.8 L111.7,135.4 L112.6,135.0 L113.5,134.7 L114.4,134.3 L115.3,133.9 L116.2,133.6 L117.1,133.3 L117.9,132.9 L118.8,132.6 L119.7,132.3 L120.6,132.0 L121.5,131.7 L122.4,131.4 L123.3,131.1 L124.2,130.8 L125.1,130.5 L125.9,130.2 L126.8,129.9 L127.7,129.6 L128.6,129.4 L129.5,129.1 L130.4,128.9 L131.3,128.6 L132.2,128.4 L133.1,128.1 L134.0,127.9 L134.8,127.6 L135.7,127.4 L136.6,127.2 L137.5,127.0 L138.4,126.7 L139.3,126.5 L140.2,126.3 L141.1,126.1 L142.0,125.9 L142.8,125.7 L143.7,125.5 L144.6,125.3 L145.5,125.1 L146.4,124.9 L147.3,124.8 L148.2,124.6 L149.1,124.4 L150.0,124.2 L150.8,124.1 L151.7,123.9 L152.6,123.7 L153.5,123.6 L154.4,123.4 L155.3,123.2 L156.2,123.1 L157.1,122.9 L158.0,122.8 L158.9,122.6 L159.7,122.5 L160.6,122.3 L161.5,122.2 L162.4,122.0 L163.3,121.9 L164.2,121.7 L165.1,121.6 L166.0,121.5 L166.9,121.3 L167.7,121.2 L168.6,121.0 L169.5,120.9 L170.4,120.8 L171.3,120.6 L172.2,120.5 L173.1,120.4 L174.0,120.2 L174.9,120.1 L175.7,120.0 L176.6,119.8 L177.5,119.7 L178.4,119.6 L179.3,119.5 L180.2,119.3 L181.1,119.2 L182.0,119.1 L182.9,119.0 L183.8,118.9 L184.6,118.7 L185.5,118.6 L186.4,118.5 L187.3,118.4 L188.2,118.3 L189.1,118.2 L190.0,118.1 L190.9,117.9 L191.8,117.8 L192.6,117.7 L193.5,117.6 L194.4,117.5 L195.3,117.4 L196.2,117.3 L197.1,117.2 L198.0,117.1 L198.9,117.0 L199.8,116.9 L200.6,116.9 L201.5,116.8 L202.4,116.7 L203.3,116.6 L204.2,116.5 L205.1,116.4 L206.0,116.3 L206.9,116.3 L207.8,116.2 L208.7,116.1 L209.5,116.0 L210.4,116.0 L211.3,115.9 L212.2,115.8 L213.1,115.8 L214.0,115.7 L214.9,115.7 L215.8,115.6 L216.7,115.5 L217.5,115.5 L218.4,115.4 L219.3,115.4 L220.2,115.3 L221.1,115.3 L222.0,115.3 L222.9,115.2 L223.8,115.2 L224.7,115.1 L225.5,115.1 L226.4,115.1 L227.3,115.1 L228.2,115.0 L229.1,115.0 L230.0,115.0 L230.9,115.0 L231.8,115.0 L232.7,114.9 L233.6,114.9 L234.4,114.9 L235.3,114.9 L236.2,114.9 L237.1,114.9 L238.0,114.9" fill="none" stroke="#0d36ff" stroke-width="1.95" stroke-linecap="round" stroke-dasharray="0.01,4.3"/>
<path d="M240.0,115.0 L240.8,115.0 L241.6,115.0 L242.4,115.0 L243.1,115.0 L243.9,115.0 L244.7,115.1 L245.5,115.1 L246.3,115.1 L247.1,115.1 L247.9,115.2 L248.6,115.2 L249.4,115.3 L250.2,115.3 L251.0,115.3 L251.8,115.4 L252.6,115.4 L253.4,115.5 L254.2,115.5 L254.9,115.6 L255.7,115.6 L256.5,115.7 L257.3,115.8 L258.1,115.8 L258.9,115.9 L259.7,116.0 L260.4,116.1 L261.2,116.1 L262.0,116.2 L262.8,116.3 L263.6,116.4 L264.4,116.5 L265.2,116.6 L265.9,116.7 L266.7,116.8 L267.5,116.9 L268.3,117.0 L269.1,117.1 L269.9,117.2 L270.7,117.3 L271.4,117.4 L272.2,117.6 L273.0,117.7 L273.8,117.8 L274.6,118.0 L275.4,118.1 L276.2,118.3 L276.9,118.4 L277.7,118.6 L278.5,118.7 L279.3,118.9 L280.1,119.1 L280.9,119.3 L281.7,119.5 L282.5,119.6 L283.2,119.8 L284.0,120.0 L284.8,120.2 L285.6,120.5 L286.4,120.7 L287.2,120.9 L288.0,121.1 L288.7,121.4 L289.5,121.6 L290.3,121.9 L291.1,122.1 L291.9,122.4 L292.7,122.7 L293.5,123.0 L294.2,123.2 L295.0,123.5 L295.8,123.8 L296.6,124.1 L297.4,124.5 L298.2,124.8 L299.0,125.1 L299.7,125.5 L300.5,125.8 L301.3,126.2 L302.1,126.5 L302.9,126.9 L303.7,127.3 L304.5,127.6 L305.3,128.0 L306.0,128.4 L306.8,128.8 L307.6,129.2 L308.4,129.6 L309.2,130.0 L310.0,130.4 L310.8,130.8 L311.5,131.2 L312.3,131.7 L313.1,132.1 L313.9,132.5 L314.7,132.9 L315.5,133.3 L316.3,133.7 L317.0,134.1 L317.8,134.5 L318.6,134.9 L319.4,135.3 L320.2,135.7 L321.0,136.1 L321.8,136.5 L322.5,136.9 L323.3,137.2 L324.1,137.6 L324.9,138.0 L325.7,138.3 L326.5,138.7 L327.3,139.1 L328.1,139.4 L328.8,139.8 L329.6,140.1 L330.4,140.4 L331.2,140.8 L332.0,141.1 L332.8,141.4 L333.6,141.8 L334.3,142.1 L335.1,142.4 L335.9,142.8 L336.7,143.1 L337.5,143.4 L338.3,143.7 L339.1,144.0 L339.8,144.3 L340.6,144.7 L341.4,145.0 L342.2,145.3 L343.0,145.6 L343.8,145.9 L344.6,146.2 L345.3,146.5 L346.1,146.8 L346.9,147.1 L347.7,147.5 L348.5,147.8 L349.3,148.1 L350.1,148.4 L350.8,148.7 L351.6,149.0 L352.4,149.3 L353.2,149.6 L354.0,150.0 L354.8,150.3 L355.6,150.6 L356.4,150.9 L357.1,151.2 L357.9,151.6 L358.7,151.9 L359.5,152.2 L360.3,152.6 L361.1,152.9 L361.9,153.2 L362.6,153.6 L363.4,153.9 L364.2,154.3 L365.0,154.6" fill="none" stroke="#0d36ff" stroke-width="1.8" stroke-linecap="round" stroke-dasharray="0.01,2.3"/>
<path d="M200.0,94.1 L201.5,94.1 L203.0,94.2 L204.5,94.2 L205.9,94.2 L207.4,94.3 L208.9,94.3 L210.4,94.4 L211.9,94.5 L213.4,94.5 L214.9,94.6 L216.3,94.7 L217.8,94.8 L219.3,94.9 L220.8,95.0 L222.3,95.1 L223.8,95.2 L225.3,95.3 L226.7,95.4 L228.2,95.5 L229.7,95.7 L231.2,95.8 L232.7,96.0 L234.2,96.1 L235.7,96.3 L237.1,96.4 L238.6,96.6 L240.1,96.8 L241.6,97.0 L243.1,97.2 L244.6,97.4 L246.1,97.6 L247.5,97.8 L249.0,98.0 L250.5,98.2 L252.0,98.5 L253.5,98.7 L255.0,98.9 L256.5,99.2 L257.9,99.5 L259.4,99.7 L260.9,100.0 L262.4,100.3 L263.9,100.6 L265.4,100.9 L266.9,101.2 L268.3,101.5 L269.8,101.8 L271.3,102.1 L272.8,102.5 L274.3,102.8 L275.8,103.2 L277.3,103.5 L278.7,103.9 L280.2,104.3 L281.7,104.7 L283.2,105.0 L284.7,105.4 L286.2,105.8 L287.7,106.3 L289.2,106.7 L290.6,107.1 L292.1,107.6 L293.6,108.0 L295.1,108.5 L296.6,108.9 L298.1,109.4 L299.6,109.9 L301.0,110.4 L302.5,110.9 L304.0,111.4 L305.5,111.9 L307.0,112.4 L308.5,113.0 L310.0,113.5 L311.4,114.1 L312.9,114.6 L314.4,115.2 L315.9,115.8 L317.4,116.4 L318.9,117.0 L320.4,117.6 L321.8,118.2 L323.3,118.8 L324.8,119.5 L326.3,120.1 L327.8,120.8 L329.3,121.5 L330.8,122.1 L332.2,122.8 L333.7,123.5 L335.2,124.2 L336.7,124.9 L338.2,125.7 L339.7,126.4 L341.2,127.1 L342.6,127.9 L344.1,128.6 L345.6,129.4 L347.1,130.1 L348.6,130.9 L350.1,131.7 L351.6,132.5 L353.0,133.2 L354.5,134.0 L356.0,134.8 L357.5,135.6 L359.0,136.4 L360.5,137.2 L362.0,138.0 L363.4,138.9 L364.9,139.7 L366.4,140.5 L367.9,141.3 L369.4,142.2 L370.9,143.1 L372.4,144.0 L373.8,144.8 L375.3,145.8 L376.8,146.7 L378.3,147.7 L379.8,148.6 L381.3,149.6 L382.8,150.6 L384.2,151.6 L385.7,152.6 L387.2,153.6 L388.7,154.6 L390.2,155.6 L391.7,156.6 L393.2,157.5 L394.6,158.4 L396.1,159.3 L397.6,160.2 L399.1,161.0 L400.6,161.9 L402.1,162.7 L403.6,163.6 L405.0,164.5 L406.5,165.4 L408.0,166.4 L409.5,167.4 L411.0,168.4 L412.5,169.5 L414.0,170.6 L415.4,171.7 L416.9,172.9 L418.4,174.0 L419.9,175.2 L421.4,176.5 L422.9,177.7 L424.4,179.0 L425.8,180.2 L427.3,181.6 L428.8,182.9 L430.3,184.2 L431.8,185.6 L433.3,187.0 L434.8,188.3 L436.2,189.8 L437.7,191.2 L439.2,192.6 L440.7,194.1 L442.2,195.5 L443.7,197.0 L445.2,198.5 L446.7,200.0 L448.1,201.5 L449.6,203.0 L451.1,204.5 L452.6,206.0 L454.1,207.5 L455.6,209.1 L457.1,210.6 L458.5,212.2 L460.0,213.7 L461.5,215.2 L463.0,216.8 L464.5,218.3 L466.0,219.9 L467.5,221.4 L468.9,223.0 L470.4,224.5 L471.9,226.0 L473.4,227.6 L474.9,229.1 L476.4,230.6 L477.9,232.1 L479.3,233.7 L480.8,235.2 L482.3,236.6 L483.8,238.1 L485.3,239.6 L486.8,241.1 L488.3,242.5 L489.7,243.9 L491.2,245.4 L492.7,246.8 L494.2,248.2 L495.7,249.5 L497.2,250.9 L498.7,252.2 L500.1,253.6 L501.6,254.9 L503.1,256.2 L504.6,257.4 L506.1,258.7 L507.6,259.9 L509.1,261.1 L510.5,262.3 L512.0,263.4 L513.5,264.5 L515.0,265.6 L516.5,266.7 L518.0,267.8 L519.5,268.8 L520.9,269.8 L522.4,270.7 L523.9,271.7 L525.4,272.6 L525.4,316.2 L523.9,314.5 L522.4,312.8 L520.9,311.1 L519.5,309.5 L518.0,307.8 L516.5,306.2 L515.0,304.7 L513.5,303.1 L512.0,301.6 L510.5,300.0 L509.1,298.5 L507.6,297.0 L506.1,295.5 L504.6,294.1 L503.1,292.6 L501.6,291.2 L500.1,289.7 L498.7,288.3 L497.2,286.8 L495.7,285.4 L494.2,284.0 L492.7,282.5 L491.2,281.1 L489.7,279.7 L488.3,278.2 L486.8,276.8 L485.3,275.3 L483.8,273.9 L482.3,272.4 L480.8,270.9 L479.3,269.3 L477.9,267.8 L476.4,266.2 L474.9,264.6 L473.4,263.0 L471.9,261.3 L470.4,259.6 L468.9,257.9 L467.5,256.1 L466.0,254.3 L464.5,252.5 L463.0,250.6 L461.5,248.8 L460.0,246.9 L458.5,245.0 L457.1,243.1 L455.6,241.1 L454.1,239.2 L452.6,237.3 L451.1,235.4 L449.6,233.5 L448.1,231.6 L446.7,229.8 L445.2,227.9 L443.7,226.1 L442.2,224.3 L440.7,222.6 L439.2,220.8 L437.7,219.1 L436.2,217.4 L434.8,215.7 L433.3,214.0 L431.8,212.4 L430.3,210.8 L428.8,209.2 L427.3,207.6 L425.8,206.0 L424.4,204.5 L422.9,203.0 L421.4,201.5 L419.9,200.0 L418.4,198.5 L416.9,197.1 L415.4,195.6 L414.0,194.2 L412.5,192.8 L411.0,191.4 L409.5,190.1 L408.0,188.7 L406.5,187.4 L405.0,186.1 L403.6,184.8 L402.1,183.6 L400.6,182.3 L399.1,181.1 L397.6,179.9 L396.1,178.7 L394.6,177.5 L393.2,176.3 L391.7,175.1 L390.2,174.0 L388.7,172.9 L387.2,171.8 L385.7,170.7 L384.2,169.6 L382.8,168.5 L381.3,167.5 L379.8,166.5 L378.3,165.4 L376.8,164.4 L375.3,163.4 L373.8,162.5 L372.4,161.5 L370.9,160.6 L369.4,159.6 L367.9,158.7 L366.4,157.8 L364.9,156.9 L363.4,156.0 L362.0,155.1 L360.5,154.3 L359.0,153.4 L357.5,152.6 L356.0,151.8 L354.5,150.9 L353.0,150.1 L351.6,149.3 L350.1,148.5 L348.6,147.7 L347.1,146.9 L345.6,146.1 L344.1,145.4 L342.6,144.6 L341.2,143.8 L339.7,143.1 L338.2,142.3 L336.7,141.5 L335.2,140.8 L333.7,140.0 L332.2,139.3 L330.8,138.5 L329.3,137.8 L327.8,137.0 L326.3,136.2 L324.8,135.5 L323.3,134.7 L321.8,134.0 L320.4,133.2 L318.9,132.4 L317.4,131.6 L315.9,130.9 L314.4,130.1 L312.9,129.3 L311.4,128.5 L310.0,127.7 L308.5,126.9 L307.0,126.0 L305.5,125.2 L304.0,124.4 L302.5,123.5 L301.0,122.6 L299.6,121.8 L298.1,120.9 L296.6,120.0 L295.1,119.1 L293.6,118.2 L292.1,117.3 L290.6,116.5 L289.2,115.6 L287.7,114.7 L286.2,113.9 L284.7,113.1 L283.2,112.3 L281.7,111.5 L280.2,110.8 L278.7,110.1 L277.3,109.4 L275.8,108.7 L274.3,108.0 L272.8,107.4 L271.3,106.8 L269.8,106.2 L268.3,105.6 L266.9,105.1 L265.4,104.5 L263.9,104.0 L262.4,103.6 L260.9,103.1 L259.4,102.7 L257.9,102.3 L256.5,101.9 L255.0,101.6 L253.5,101.2 L252.0,100.9 L250.5,100.6 L249.0,100.3 L247.5,100.0 L246.1,99.8 L244.6,99.6 L243.1,99.3 L241.6,99.1 L240.1,98.9 L238.6,98.8 L237.1,98.6 L235.7,98.4 L234.2,98.3 L232.7,98.1 L231.2,98.0 L229.7,97.9 L228.2,97.7 L226.7,97.6 L225.3,97.5 L223.8,97.4 L222.3,97.3 L220.8,97.2 L219.3,97.1 L217.8,96.9 L216.3,96.8 L214.9,96.7 L213.4,96.6 L211.9,96.5 L210.4,96.3 L208.9,96.2 L207.4,96.0 L205.9,95.9 L204.5,95.7 L203.0,95.6 L201.5,95.4 L200.0,95.2Z" fill="#0d36ff"/>
<path d="M96.6,106.9 L97.5,106.5 L98.5,106.2 L99.4,105.8 L100.3,105.5 L101.3,105.1 L102.2,104.8 L103.1,104.5 L104.1,104.1 L105.0,103.8 L105.9,103.5 L106.9,103.2 L107.8,102.9 L108.7,102.6 L109.7,102.3 L110.6,102.0 L111.5,101.8 L112.5,101.5 L113.4,101.2 L114.3,101.0 L115.3,100.7 L116.2,100.4 L117.1,100.2 L118.1,100.0 L119.0,99.7 L119.9,99.5 L120.9,99.3 L121.8,99.1 L122.7,98.8 L123.7,98.6 L124.6,98.4 L125.5,98.2 L126.5,98.0 L127.4,97.8 L128.3,97.7 L129.3,97.5 L130.2,97.3 L131.1,97.1 L132.1,97.0 L133.0,96.8 L133.9,96.7 L134.9,96.5 L135.8,96.4 L136.7,96.2 L137.7,96.1 L138.6,95.9 L139.5,95.8 L140.5,95.7 L141.4,95.6 L142.3,95.4 L143.3,95.3 L144.2,95.2 L145.1,95.1 L146.1,95.0 L147.0,94.9 L147.9,94.8 L148.9,94.7 L149.8,94.6 L150.7,94.6 L151.7,94.5 L152.6,94.4 L153.5,94.3 L154.5,94.3 L155.4,94.2 L156.3,94.1 L157.3,94.1 L158.2,94.0 L159.1,94.0 L160.1,93.9 L161.0,93.9 L161.9,93.9 L162.9,93.8 L163.8,93.8 L164.7,93.7 L165.7,93.7 L166.6,93.7 L167.5,93.7 L168.5,93.7 L169.4,93.6 L170.3,93.6 L171.3,93.6 L172.2,93.6 L173.1,93.6 L174.1,93.6 L175.0,93.6 L175.9,93.6 L176.9,93.6 L177.8,93.6 L178.7,93.6 L179.7,93.6 L180.6,93.7 L181.5,93.7 L182.5,93.7 L183.4,93.7 L184.3,93.7 L185.3,93.8 L186.2,93.8 L187.1,93.8 L188.1,93.9 L189.0,93.9 L189.9,93.9 L190.9,94.0 L191.8,94.0 L192.7,94.1 L193.7,94.1 L194.6,94.2 L195.5,94.2 L196.5,94.3 L197.4,94.3 L198.3,94.4 L199.3,94.4 L200.2,94.5 L201.1,94.5 L202.1,94.6 L203.0,94.6 L203.9,94.7 L204.9,94.8 L205.8,94.8 L206.7,94.9 L207.7,95.0 L208.6,95.0 L209.5,95.1 L210.5,95.2 L211.4,95.2 L212.3,95.3 L213.3,95.4 L214.2,95.5 L215.1,95.5 L216.1,95.6 L217.0,95.7 L217.9,95.8 L218.9,95.8 L219.8,95.9 L220.7,96.0 L221.7,96.1 L222.6,96.2 L223.5,96.2 L224.5,96.3 L225.4,96.4 L226.3,96.5 L227.3,96.6 L228.2,96.7 L229.1,96.7 L230.1,96.8 L231.0,96.9 L231.9,97.0 L232.9,97.1 L233.8,97.1 L234.7,97.2 L235.7,97.3 L236.6,97.4 L237.5,97.5 L238.5,97.6 L239.4,97.6 L240.3,97.7 L241.3,97.8 L242.2,97.9 L243.1,98.0 L244.1,98.0 L245.0,98.1" fill="none" stroke="#0d36ff" stroke-width="1.7"/>
<path d="M96.6,94.7 L97.4,94.4 L98.3,94.2 L99.1,93.9 L99.9,93.7 L100.8,93.5 L101.6,93.3 L102.5,93.1 L103.3,92.9 L104.1,92.7 L105.0,92.5 L105.8,92.3 L106.6,92.1 L107.5,91.9 L108.3,91.7 L109.1,91.5 L110.0,91.4 L110.8,91.2 L111.6,91.0 L112.5,90.9 L113.3,90.7 L114.2,90.6 L115.0,90.4 L115.8,90.3 L116.7,90.2 L117.5,90.0 L118.3,89.9 L119.2,89.8 L120.0,89.7 L120.8,89.5 L121.7,89.4 L122.5,89.3 L123.3,89.2 L124.2,89.1 L125.0,89.0 L125.9,89.0 L126.7,88.9 L127.5,88.8 L128.4,88.7 L129.2,88.6 L130.0,88.6 L130.9,88.5 L131.7,88.5 L132.5,88.4 L133.4,88.3 L134.2,88.3 L135.0,88.3 L135.9,88.2 L136.7,88.2 L137.6,88.1 L138.4,88.1 L139.2,88.1 L140.1,88.1 L140.9,88.1 L141.7,88.0 L142.6,88.0 L143.4,88.0 L144.2,88.0 L145.1,88.0 L145.9,88.0 L146.8,88.0 L147.6,88.0 L148.4,88.1 L149.3,88.1 L150.1,88.1 L150.9,88.1 L151.8,88.1 L152.6,88.2 L153.4,88.2 L154.3,88.3 L155.1,88.3 L155.9,88.3 L156.8,88.4 L157.6,88.4 L158.5,88.5 L159.3,88.6 L160.1,88.6 L161.0,88.7 L161.8,88.7 L162.6,88.8 L163.5,88.9 L164.3,89.0 L165.1,89.1 L166.0,89.1 L166.8,89.2 L167.6,89.3 L168.5,89.4 L169.3,89.5 L170.2,89.6 L171.0,89.7 L171.8,89.8 L172.7,89.9 L173.5,90.0 L174.3,90.1 L175.2,90.2 L176.0,90.4 L176.8,90.5 L177.7,90.6 L178.5,90.7 L179.3,90.8 L180.2,91.0 L181.0,91.1 L181.9,91.2 L182.7,91.4 L183.5,91.5 L184.4,91.7 L185.2,91.8 L186.0,92.0 L186.9,92.1 L187.7,92.3 L188.5,92.4 L189.4,92.6 L190.2,92.7 L191.1,92.9 L191.9,93.1 L192.7,93.2 L193.6,93.4 L194.4,93.6 L195.2,93.7 L196.1,93.9 L196.9,94.1 L197.7,94.3 L198.6,94.4 L199.4,94.6 L200.2,94.8 L201.1,95.0 L201.9,95.2 L202.8,95.4 L203.6,95.6 L204.4,95.8 L205.3,96.0 L206.1,96.2 L206.9,96.4 L207.8,96.6 L208.6,96.8 L209.4,97.0 L210.3,97.2 L211.1,97.4 L211.9,97.6 L212.8,97.8 L213.6,98.0 L214.5,98.3 L215.3,98.5 L216.1,98.7 L217.0,98.9 L217.8,99.1 L218.6,99.4 L219.5,99.6 L220.3,99.8 L221.1,100.0 L222.0,100.3 L222.8,100.5 L223.6,100.7 L224.5,101.0 L225.3,101.2 L226.2,101.4 L227.0,101.7 L227.8,101.9 L228.7,102.1 L229.5,102.4" fill="none" stroke="#0d36ff" stroke-width="1.9" stroke-dasharray="8,5.6" stroke-dashoffset="-0.8"/>
<path d="M231.5,103.0 L231.7,103.0 L231.9,103.1 L232.1,103.1 L232.3,103.2 L232.5,103.2 L232.7,103.3 L232.8,103.4 L233.0,103.4 L233.2,103.5 L233.4,103.5 L233.6,103.6 L233.8,103.6 L234.0,103.7 L234.2,103.8 L234.4,103.8 L234.6,103.9 L234.8,103.9 L235.0,104.0 L235.1,104.0 L235.3,104.1 L235.5,104.2 L235.7,104.2 L235.9,104.3 L236.1,104.3 L236.3,104.4 L236.5,104.4 L236.7,104.5 L236.9,104.6 L237.1,104.6 L237.3,104.7 L237.4,104.7 L237.6,104.8 L237.8,104.8 L238.0,104.9 L238.2,105.0 L238.4,105.0 L238.6,105.1 L238.8,105.1 L239.0,105.2 L239.2,105.3 L239.4,105.3 L239.6,105.4 L239.7,105.4 L239.9,105.5 L240.1,105.5 L240.3,105.6 L240.5,105.7 L240.7,105.7 L240.9,105.8 L241.1,105.8 L241.3,105.9 L241.5,106.0 L241.7,106.0 L241.9,106.1 L242.1,106.1 L242.2,106.2 L242.4,106.2 L242.6,106.3 L242.8,106.4 L243.0,106.4 L243.2,106.5 L243.4,106.5 L243.6,106.6 L243.8,106.7 L244.0,106.7 L244.2,106.8 L244.4,106.8 L244.5,106.9 L244.7,107.0 L244.9,107.0 L245.1,107.1 L245.3,107.1 L245.5,107.2 L245.7,107.3 L245.9,107.3 L246.1,107.4 L246.3,107.4 L246.5,107.5 L246.7,107.5 L246.8,107.6 L247.0,107.7 L247.2,107.7 L247.4,107.8 L247.6,107.8 L247.8,107.9 L248.0,108.0 L248.2,108.0 L248.4,108.1 L248.6,108.1 L248.8,108.2 L249.0,108.3 L249.1,108.3 L249.3,108.4 L249.5,108.4 L249.7,108.5 L249.9,108.6 L250.1,108.6 L250.3,108.7 L250.5,108.8 L250.7,108.8 L250.9,108.9 L251.1,108.9 L251.3,109.0 L251.4,109.1 L251.6,109.1 L251.8,109.2 L252.0,109.2 L252.2,109.3 L252.4,109.4 L252.6,109.4 L252.8,109.5 L253.0,109.5 L253.2,109.6 L253.4,109.7 L253.6,109.7 L253.8,109.8 L253.9,109.8 L254.1,109.9 L254.3,110.0 L254.5,110.0 L254.7,110.1 L254.9,110.1 L255.1,110.2 L255.3,110.3 L255.5,110.3 L255.7,110.4 L255.9,110.5 L256.1,110.5 L256.2,110.6 L256.4,110.6 L256.6,110.7 L256.8,110.8 L257.0,110.8 L257.2,110.9 L257.4,110.9 L257.6,111.0 L257.8,111.1 L258.0,111.1 L258.2,111.2 L258.4,111.2 L258.5,111.3 L258.7,111.4 L258.9,111.4 L259.1,111.5 L259.3,111.6 L259.5,111.6 L259.7,111.7 L259.9,111.7 L260.1,111.8 L260.3,111.9 L260.5,111.9 L260.7,112.0 L260.8,112.0 L261.0,112.1 L261.2,112.2 L261.4,112.2 L261.6,112.3 L261.8,112.4 L262.0,112.4" fill="none" stroke="#0d36ff" stroke-width="2.0" stroke-dasharray="6.5,2.3,3,1.6"/>
<path d="M260.44,111.10L259.99,112.80M260.44,111.10L262.64,111.51M259.99,112.80L262.13,113.43M262.64,111.51L262.13,113.43M264.83,111.98L264.27,114.07M264.83,111.98L267.02,112.52M264.27,114.07L266.42,114.76M267.02,112.52L266.42,114.76M267.02,112.52L269.22,113.12M266.42,114.76L268.57,115.56M269.22,113.12L268.57,115.56M269.22,113.12L271.43,113.80M268.57,115.56L270.71,116.50M271.43,113.80L270.71,116.50M271.43,113.80L273.65,114.54M270.71,116.50L272.83,117.61M273.65,114.54L272.83,117.61M275.90,115.34L274.94,118.92M275.90,115.34L278.15,116.21M274.94,118.92L277.03,120.37M278.15,116.21L277.03,120.37M278.15,116.21L280.41,117.14M277.03,120.37L279.12,121.93M280.41,117.14L279.12,121.93M280.41,117.14L282.67,118.11M279.12,121.93L281.21,123.57M282.67,118.11L281.21,123.57M282.67,118.11L284.93,119.14M281.21,123.57L283.29,125.25M284.93,119.14L283.29,125.25M287.18,120.20L285.38,126.93M287.18,120.20L289.43,121.31M285.38,126.93L287.47,128.59M289.43,121.31L287.47,128.59M289.43,121.31L291.65,122.44M287.47,128.59L289.58,130.18M291.65,122.44L289.58,130.18M291.65,122.44L293.87,123.60M289.58,130.18L291.70,131.70M293.87,123.60L291.70,131.70M293.87,123.60L296.07,124.79M291.70,131.70L293.82,133.17M296.07,124.79L293.82,133.17M298.26,126.00L295.96,134.58M298.26,126.00L300.44,127.23M295.96,134.58L298.11,135.94M300.44,127.23L298.11,135.94M300.44,127.23L302.62,128.48M298.11,135.94L300.27,137.27M302.62,128.48L300.27,137.27M302.62,128.48L304.79,129.75M300.27,137.27L302.43,138.57M304.79,129.75L302.43,138.57M304.79,129.75L306.96,131.03M302.43,138.57L304.60,139.86M306.96,131.03L304.60,139.86M309.13,132.32L306.77,141.13M309.13,132.32L311.29,133.62M306.77,141.13L308.94,142.40M311.29,133.62L308.94,142.40M311.29,133.62L313.46,134.93M308.94,142.40L311.12,143.67M313.46,134.93L311.12,143.67M313.46,134.93L315.63,136.25M311.12,143.67L313.29,144.97M315.63,136.25L313.29,144.97M315.63,136.25L317.80,137.58M313.29,144.97L315.46,146.28M317.80,137.58L315.46,146.28M319.97,138.91L317.63,147.63M319.97,138.91L322.14,140.26M317.63,147.63L319.80,149.00M322.14,140.26L319.80,149.00M322.14,140.26L324.32,141.60M319.80,149.00L321.97,150.39M324.32,141.60L321.97,150.39M324.32,141.60L326.50,142.96M321.97,150.39L324.13,151.80M326.50,142.96L324.13,151.80M326.50,142.96L328.68,144.32M324.13,151.80L326.29,153.24M328.68,144.32L326.29,153.24M330.87,145.69L328.45,154.70M330.87,145.69L333.05,147.06M328.45,154.70L330.61,156.17M333.05,147.06L330.61,156.17M333.05,147.06L335.24,148.44M330.61,156.17L332.76,157.67M335.24,148.44L332.76,157.67M335.24,148.44L337.42,149.83M332.76,157.67L334.92,159.18M337.42,149.83L334.92,159.18M337.42,149.83L339.61,151.22M334.92,159.18L337.07,160.71M339.61,151.22L337.07,160.71M341.80,152.62L339.22,162.26M341.80,152.62L344.00,154.02M339.22,162.26L341.37,163.82M344.00,154.02L341.37,163.82M344.00,154.02L346.19,155.44M341.37,163.82L343.52,165.39M346.19,155.44L343.52,165.39M346.19,155.44L348.38,156.85M343.52,165.39L345.67,166.97M348.38,156.85L345.67,166.97M348.38,156.85L350.57,158.28M345.67,166.97L347.82,168.57M350.57,158.28L347.82,168.57M352.77,159.71L349.96,170.18M352.77,159.71L354.96,161.14M349.96,170.18L352.11,171.79M354.96,161.14L352.11,171.79M354.96,161.14L357.16,162.58M352.11,171.79L354.25,173.42M357.16,162.58L354.25,173.42M357.16,162.58L359.35,164.03M354.25,173.42L356.40,175.05M359.35,164.03L356.40,175.05M359.35,164.03L361.55,165.48M356.40,175.05L358.55,176.69M361.55,165.48L358.55,176.69M363.75,166.94L360.69,178.33M363.75,166.94L365.94,168.40M360.69,178.33L362.84,179.98M365.94,168.40L362.84,179.98M365.94,168.40L368.14,169.87M362.84,179.98L364.98,181.64M368.14,169.87L364.98,181.64M368.14,169.87L370.33,171.34M364.98,181.64L367.13,183.29M370.33,171.34L367.13,183.29M370.33,171.34L372.52,172.81M367.13,183.29L369.27,184.95M372.52,172.81L369.27,184.95M374.72,174.30L371.42,186.61M374.72,174.30L376.91,175.78M371.42,186.61L373.57,188.26M376.91,175.78L373.57,188.26M376.91,175.78L379.10,177.28M373.57,188.26L375.71,189.92M379.10,177.28L375.71,189.92M379.10,177.28L381.29,178.77M375.71,189.92L377.86,191.57M381.29,178.77L377.86,191.57M381.29,178.77L383.48,180.28M377.86,191.57L380.01,193.23M383.48,180.28L380.01,193.23M385.67,181.81L382.16,194.88M385.67,181.81L387.85,183.34M382.16,194.88L384.32,196.55M387.85,183.34L384.32,196.55M387.85,183.34L390.04,184.90M384.32,196.55L386.47,198.23M390.04,184.90L386.47,198.23M390.04,184.90L392.23,186.48M386.47,198.23L388.62,199.93M392.23,186.48L388.62,199.93M392.23,186.48L394.41,188.09M388.62,199.93L390.78,201.65M394.41,188.09L390.78,201.65M396.60,189.73L392.93,203.41M396.60,189.73L398.79,191.40M392.93,203.41L395.09,205.20M398.79,191.40L395.09,205.20M398.79,191.40L400.97,193.10M395.09,205.20L397.24,207.03M400.97,193.10L397.24,207.03M400.97,193.10L403.16,194.85M397.24,207.03L399.40,208.90M403.16,194.85L399.40,208.90M403.16,194.85L405.35,196.64M399.40,208.90L401.55,210.83M405.35,196.64L401.55,210.83M407.54,198.47L403.70,212.81M407.54,198.47L409.74,200.36M403.70,212.81L405.85,214.85M409.74,200.36L405.85,214.85M409.74,200.36L411.93,202.30M405.85,214.85L408.00,216.95M411.93,202.30L408.00,216.95M411.93,202.30L414.13,204.29M408.00,216.95L410.15,219.13M414.13,204.29L410.15,219.13M414.13,204.29L416.33,206.35M410.15,219.13L412.30,221.39M416.33,206.35L412.30,221.39M418.53,208.47L414.44,223.72M418.53,208.47L420.73,210.65M414.44,223.72L416.58,226.14M420.73,210.65L416.58,226.14M420.73,210.65L422.94,212.89M416.58,226.14L418.72,228.65M422.94,212.89L418.72,228.65M422.94,212.89L425.16,215.19M418.72,228.65L420.86,231.24M425.16,215.19L420.86,231.24M425.16,215.19L427.37,217.54M420.86,231.24L422.99,233.91M427.37,217.54L422.99,233.91M429.59,219.94L425.12,236.65M429.59,219.94L431.82,222.38M425.12,236.65L427.24,239.46M431.82,222.38L427.24,239.46M431.82,222.38L434.04,224.85M427.24,239.46L429.36,242.32M434.04,224.85L429.36,242.32M434.04,224.85L436.27,227.36M429.36,242.32L431.48,245.22M436.27,227.36L431.48,245.22M436.27,227.36L438.50,229.89M431.48,245.22L433.60,248.18M438.50,229.89L433.60,248.18M440.73,232.44L435.71,251.16M440.73,232.44L442.96,235.01M435.71,251.16L437.83,254.17M442.96,235.01L437.83,254.17M442.96,235.01L445.19,237.59M437.83,254.17L439.94,257.21M445.19,237.59L439.94,257.21M445.19,237.59L447.43,240.18M439.94,257.21L442.05,260.26M447.43,240.18L442.05,260.26M447.43,240.18L449.66,242.77M442.05,260.26L444.16,263.31M449.66,242.77L444.16,263.31M451.90,245.36L446.27,266.38M451.90,245.36L454.13,247.95M446.27,266.38L448.38,269.45M454.13,247.95L448.38,269.45M454.13,247.95L456.37,250.54M448.38,269.45L450.48,272.51M456.37,250.54L450.48,272.51M456.37,250.54L458.61,253.12M450.48,272.51L452.59,275.58M458.61,253.12L452.59,275.58M458.61,253.12L460.84,255.70M452.59,275.58L454.70,278.63M460.84,255.70L454.70,278.63M463.07,258.27L456.80,281.68M463.07,258.27L465.31,260.84M456.80,281.68L458.91,284.71M465.31,260.84L458.91,284.71M465.31,260.84L467.54,263.39M458.91,284.71L461.02,287.72M467.54,263.39L461.02,287.72M467.54,263.39L469.76,265.94M461.02,287.72L463.13,290.71M469.76,265.94L463.13,290.71M469.76,265.94L471.99,268.47M463.13,290.71L465.24,293.68M471.99,268.47L465.24,293.68M474.22,271.00L467.35,296.62M474.22,271.00L476.44,273.51M467.35,296.62L469.47,299.56M476.44,273.51L469.47,299.56M476.44,273.51L478.67,276.02M469.47,299.56L471.58,302.47M478.67,276.02L471.58,302.47M478.67,276.02L480.90,278.51M471.58,302.47L473.70,305.38M480.90,278.51L473.70,305.38M480.90,278.51L483.13,280.99M473.70,305.38L475.82,308.27M483.13,280.99L475.82,308.27M485.35,283.46L477.93,311.16M485.35,283.46L487.58,285.92M477.93,311.16L480.05,314.04M487.58,285.92L480.05,314.04M487.58,285.92L489.81,288.39M480.05,314.04L482.17,316.92M489.81,288.39L482.17,316.92M489.81,288.39L492.04,290.85M482.17,316.92L484.28,319.80M492.04,290.85L484.28,319.80M492.04,290.85L494.26,293.32M484.28,319.80L486.40,322.68M494.26,293.32L486.40,322.68M496.49,295.81L488.52,325.57M496.49,295.81L498.71,298.31M488.52,325.57L490.64,328.46M498.71,298.31L490.64,328.46M498.71,298.31L500.94,300.83M490.64,328.46L492.75,331.37M500.94,300.83L492.75,331.37M500.94,300.83L503.16,303.37M492.75,331.37L494.87,334.30M503.16,303.37L494.87,334.30M503.16,303.37L505.38,305.94M494.87,334.30L496.99,337.24M505.38,305.94L496.99,337.24" fill="none" stroke="#0d36ff" stroke-width="1.3" stroke-linecap="round"/>
</g>
<g clip-path="url(#ct)" fill="none">
<path d="M96.2,57.7V79.3M93.2,57.7h6M93.2,79.3h6M113.0,62.5V84.3M110.0,62.5h6M110.0,84.3h6M129.9,69.2V89.5M126.9,69.2h6M126.9,89.5h6M146.7,70.5V92.1M143.7,70.5h6M143.7,92.1h6M163.7,71.0V92.1M160.7,71.0h6M160.7,92.1h6M180.4,69.9V90.8M177.4,69.9h6M177.4,90.8h6M197.1,75.5V97.1M194.1,75.5h6M194.1,97.1h6M214.1,80.8V103.3M211.1,80.8h6M211.1,103.3h6M230.9,85.2V109.3M227.9,85.2h6M227.9,109.3h6M247.7,88.5V113.2M244.7,88.5h6M244.7,113.2h6M264.7,94.0V118.2M261.7,94.0h6M261.7,118.2h6M281.4,99.2V123.4M278.4,99.2h6M278.4,123.4h6M298.5,102.8V126.8M295.5,102.8h6M295.5,126.8h6M315.3,104.2V127.1M312.3,104.2h6M312.3,127.1h6M332.2,112.4V136.6M329.2,112.4h6M329.2,136.6h6M349.0,117.2V140.1M346.0,117.2h6M346.0,140.1h6M365.9,123.3V146.0M362.9,123.3h6M362.9,146.0h6M382.8,127.0V147.9M379.8,127.0h6M379.8,147.9h6M399.7,133.9V154.5M396.7,133.9h6M396.7,154.5h6M416.5,143.9V163.3M413.5,143.9h6M413.5,163.3h6M433.2,157.7V177.9M430.2,157.7h6M430.2,177.9h6M450.2,163.5V182.5M447.2,163.5h6M447.2,182.5h6M466.7,181.7V200.1M463.7,181.7h6M463.7,200.1h6M483.6,181.7V200.1M480.6,181.7h6M480.6,200.1h6M500.5,211.4V231.5M497.5,211.4h6M497.5,231.5h6M517.4,226.3V249.4M514.4,226.3h6M514.4,249.4h6" stroke="#5a5a5a" stroke-width="1.1"/>
<path d="M96.2,57.7V70.5M93.2,57.7h6.0M93.2,70.5h6.0M87.8,63.6h16.8M87.8,60.4v6.4M104.6,60.4v6.4M113.0,61.4V77.1M110.0,61.4h6.0M110.0,77.1h6.0M104.6,68.4h16.8M104.6,65.2v6.4M121.4,65.2v6.4M129.9,64.6V82.9M126.9,64.6h6.0M126.9,82.9h6.0M121.5,72.7h16.8M121.5,69.5v6.4M138.3,69.5v6.4M146.7,68.3V84.9M143.7,68.3h6.0M143.7,84.9h6.0M138.3,76.0h16.8M138.3,72.8v6.4M155.1,72.8v6.4M163.7,70.7V83.4M160.7,70.7h6.0M160.7,83.4h6.0M155.3,76.5h16.8M155.3,73.3v6.4M172.1,73.3v6.4M180.4,71.6V79.4M177.7,71.6h5.4M177.7,79.4h5.4M172.0,75.7h16.8M172.0,72.5v6.4M188.8,72.5v6.4M197.1,78.3V84.5M194.4,78.3h5.4M194.4,84.5h5.4M188.7,81.4h16.8M188.7,78.2v6.4M205.5,78.2v6.4M214.1,85.5V90.7M211.4,85.5h5.4M211.4,90.7h5.4M205.7,88.1h16.8M205.7,84.9v6.4M222.5,84.9v6.4M230.9,91.0V96.8M228.2,91.0h5.4M228.2,96.8h5.4M222.5,93.9h16.8M222.5,90.7v6.4M239.3,90.7v6.4M247.7,96.2V101.0M245.0,96.2h5.4M245.0,101.0h5.4M239.3,98.6h16.8M239.3,95.4v6.4M256.1,95.4v6.4M264.7,101.5V107.3M262.0,101.5h5.4M262.0,107.3h5.4M256.3,104.4h16.8M256.3,101.2v6.4M273.1,101.2v6.4M281.4,106.4V113.2M278.7,106.4h5.4M278.7,113.2h5.4M273.0,109.6h16.8M273.0,106.4v6.4M289.8,106.4v6.4M298.5,110.0V118.0M295.8,110.0h5.4M295.8,118.0h5.4M290.1,113.7h16.8M290.1,110.5v6.4M306.9,110.5v6.4M315.3,110.4V116.6M312.6,110.4h5.4M312.6,116.6h5.4M306.9,113.3h16.8M306.9,110.1v6.4M323.7,110.1v6.4M332.2,119.2V126.4M329.5,119.2h5.4M329.5,126.4h5.4M323.8,122.9h16.8M323.8,119.7v6.4M340.6,119.7v6.4M349.0,122.5V129.7M346.3,122.5h5.4M346.3,129.7h5.4M340.6,126.2h16.8M340.6,123.0v6.4M357.4,123.0v6.4M365.9,129.6V136.2M363.2,129.6h5.4M363.2,136.2h5.4M357.5,132.8h16.8M357.5,129.6v6.4M374.3,129.6v6.4M382.8,131.0V138.2M380.1,131.0h5.4M380.1,138.2h5.4M374.4,134.7h16.8M374.4,131.5v6.4M391.2,131.5v6.4M399.7,137.5V144.3M397.0,137.5h5.4M397.0,144.3h5.4M391.3,140.7h16.8M391.3,137.5v6.4M408.1,137.5v6.4M416.5,146.5V153.7M413.8,146.5h5.4M413.8,153.7h5.4M408.1,149.9h16.8M408.1,146.7v6.4M424.9,146.7v6.4M433.2,159.6V169.4M430.2,159.6h6.0M430.2,169.4h6.0M424.8,164.4h16.8M424.8,161.2v6.4M441.6,161.2v6.4M450.2,164.9V175.3M447.2,164.9h6.0M447.2,175.3h6.0M441.8,169.4h16.8M441.8,166.2v6.4M458.6,166.2v6.4M466.7,179.4V195.9M463.7,179.4h6.0M463.7,195.9h6.0M458.3,187.1h16.8M458.3,183.9v6.4M475.1,183.9v6.4M483.6,179.1V196.3M480.6,179.1h6.0M480.6,196.3h6.0M475.2,187.1h16.8M475.2,183.9v6.4M492.0,183.9v6.4M500.5,204.2V240.3M497.5,204.2h6.0M497.5,240.3h6.0M492.1,218.7h16.8M492.1,215.5v6.4M508.9,215.5v6.4M517.4,215.5V275.4M514.4,215.5h6.0M514.4,275.4h6.0M509.0,235.4h16.8M509.0,232.2v6.4M525.8,232.2v6.4" stroke="#000" stroke-width="1.4"/>
<circle cx="96.2" cy="63.6" r="3.3" fill="#000"/>
<circle cx="113.0" cy="68.4" r="3.3" fill="#000"/>
<circle cx="129.9" cy="72.7" r="3.3" fill="#000"/>
<circle cx="146.7" cy="76.0" r="3.3" fill="#000"/>
<circle cx="163.7" cy="76.5" r="3.3" fill="#000"/>
<circle cx="180.4" cy="75.7" r="3.3" fill="#000"/>
<circle cx="197.1" cy="81.4" r="3.3" fill="#000"/>
<circle cx="214.1" cy="88.1" r="3.3" fill="#000"/>
<circle cx="230.9" cy="93.9" r="3.3" fill="#000"/>
<circle cx="247.7" cy="98.6" r="3.3" fill="#000"/>
<circle cx="264.7" cy="104.4" r="3.3" fill="#000"/>
<circle cx="281.4" cy="109.6" r="3.3" fill="#000"/>
<circle cx="298.5" cy="113.7" r="3.3" fill="#000"/>
<circle cx="315.3" cy="113.3" r="3.3" fill="#000"/>
<circle cx="332.2" cy="122.9" r="3.3" fill="#000"/>
<circle cx="349.0" cy="126.2" r="3.3" fill="#000"/>
<circle cx="365.9" cy="132.8" r="3.3" fill="#000"/>
<circle cx="382.8" cy="134.7" r="3.3" fill="#000"/>
<circle cx="399.7" cy="140.7" r="3.3" fill="#000"/>
<circle cx="416.5" cy="149.9" r="3.3" fill="#000"/>
<circle cx="433.2" cy="164.4" r="3.3" fill="#000"/>
<circle cx="450.2" cy="169.4" r="3.3" fill="#000"/>
<circle cx="466.7" cy="187.1" r="3.3" fill="#000"/>
<circle cx="483.6" cy="187.1" r="3.3" fill="#000"/>
<circle cx="500.5" cy="218.7" r="3.3" fill="#000"/>
<circle cx="517.4" cy="235.4" r="3.3" fill="#000"/>
</g>
<g clip-path="url(#cb)" fill="none" stroke-width="1.75" stroke-linejoin="round">
<path d="M98.5,409.4 L138.9,395.9 L170.0,386.5 L196.0,378.0 L219.9,372.0 L251.3,361.5 L273.5,355.0 L295.8,348.7 L304.9,345.8 L328.5,337.4 L340.7,334.5 L361.6,329.3 L377.3,327.0 L394.4,325.4 L404.8,326.7 L427.0,335.3 L448.9,342.1 L460.6,344.1 L470.7,348.1 L481.8,345.4 L492.6,337.0 L503.4,323.6" stroke="#00f400"/>
<path d="M98.7,427.5 L113.7,415.2 L132.4,400.0 L151.1,385.2 L169.8,370.8 L185.0,360.0 L195.0,353.9 L209.4,344.5 L230.3,333.2 L252.1,326.7 L273.0,328.0 L295.8,341.1 L316.7,358.9 L325.0,363.6 L340.7,374.6 L361.6,387.7 L382.6,398.7 L403.5,412.5 L427.0,427.9 L448.9,441.4 L470.7,449.1 L492.6,449.4 L514.5,441.4" stroke="#0d36ff"/>
<path d="M102.3,408.7 L110.1,402.2M116.3,396.8 L123.0,390.7 L124.1,389.8M130.3,385.0 L132.4,383.3 L138.1,379.3M144.3,375.2 L151.1,371.1 L152.1,370.6M158.3,367.8 L160.4,366.8 L166.1,364.7M172.3,362.5 L179.1,360.3 L180.1,360.1M186.3,358.5 L188.5,358.0 L194.1,356.7M200.3,355.5 L201.0,355.4 L208.1,354.8M214.3,354.2 L214.6,354.2 L222.1,354.3M228.3,354.5 L234.3,355.0 L236.1,355.3M242.3,356.5 L250.1,357.9M256.3,360.4 L264.1,364.1M270.3,367.1 L278.1,372.1M284.3,376.1 L292.1,381.5M298.3,385.8 L304.9,390.3 L306.1,391.3M312.3,396.3 L320.1,402.7M326.3,407.8 L328.9,409.9 L334.1,412.7M340.3,416.0 L348.1,420.1M354.3,423.5 L357.0,424.9 L362.1,427.4M368.3,430.4 L376.1,434.1M382.3,437.1 L383.7,437.8 L390.1,441.1M396.3,444.2 L404.1,447.1M410.3,449.3 L418.1,452.2M424.3,454.5 L427.0,455.5 L432.1,457.3M438.3,459.5 L446.1,462.2M452.3,463.8 L460.1,465.3M466.3,466.5 L470.7,467.3 L474.1,467.6M480.3,468.3 L480.8,468.3 L488.1,467.9M494.3,467.5 L502.1,467.3M508.3,467.1 L511.1,467.0" stroke="#0d36ff"/>
<path d="M98.7,456.6 L113.7,449.2 L132.4,440.2 L151.1,430.8 L169.8,421.5 L188.5,411.8 L195.0,408.2 L208.7,397.9 L227.4,386.2 L246.1,375.9 L264.8,368.2 L272.2,366.4 L291.8,368.4 L303.0,371.4 L318.6,377.0 L330.0,380.6 L341.1,383.6 L362.4,387.6 L374.7,391.4 L385.2,394.2 L392.7,397.2 L403.5,401.2 L427.0,412.8 L448.9,426.2 L470.7,435.0 L492.6,432.0 L503.4,424.5 L512.8,414.4" stroke="#0d36ff" stroke-width="1.95" stroke-linecap="round" stroke-dasharray="0.01,4.45"/>
</g>
<path d="M88.0,300.0V477.0H524.4V300.0" stroke="#000" stroke-width="1.3" fill="none"/>
<text transform="translate(75.17,497.50) scale(1.198,1)" font-family="Liberation Serif, serif" font-size="16.3" fill="#000" stroke="#000" stroke-width="0.3" vector-effect="non-scaling-stroke">0.1</text>
<text transform="translate(195.71,497.50) scale(0.975,1)" font-family="Liberation Serif, serif" font-size="16.3" fill="#000" stroke="#000" stroke-width="0.3" vector-effect="non-scaling-stroke">1</text>
<text transform="translate(302.07,497.50) scale(1.213,1)" font-family="Liberation Serif, serif" font-size="16.3" fill="#000" stroke="#000" stroke-width="0.3" vector-effect="non-scaling-stroke">10</text>
<text transform="translate(408.53,497.50) scale(1.240,1)" font-family="Liberation Serif, serif" font-size="16.3" fill="#000" stroke="#000" stroke-width="0.3" vector-effect="non-scaling-stroke">100</text>
<text transform="translate(53.12,452.04) scale(1.283,1)" font-family="Liberation Serif, serif" font-size="16.3" fill="#000" stroke="#000" stroke-width="0.3" vector-effect="non-scaling-stroke">0.2</text>
<text transform="translate(53.14,421.18) scale(1.240,1)" font-family="Liberation Serif, serif" font-size="16.3" fill="#000" stroke="#000" stroke-width="0.3" vector-effect="non-scaling-stroke">0.4</text>
<text transform="translate(53.13,390.32) scale(1.256,1)" font-family="Liberation Serif, serif" font-size="16.3" fill="#000" stroke="#000" stroke-width="0.3" vector-effect="non-scaling-stroke">0.6</text>
<text transform="translate(53.13,359.46) scale(1.264,1)" font-family="Liberation Serif, serif" font-size="16.3" fill="#000" stroke="#000" stroke-width="0.3" vector-effect="non-scaling-stroke">0.8</text>
<text transform="translate(68.65,482.90) scale(1.227,1)" font-family="Liberation Serif, serif" font-size="16.3" fill="#000" stroke="#000" stroke-width="0.3" vector-effect="non-scaling-stroke">0</text>
<text transform="translate(70.08,328.60) scale(0.922,1)" font-family="Liberation Serif, serif" font-size="16.3" fill="#000" stroke="#000" stroke-width="0.3" vector-effect="non-scaling-stroke">1</text>
<text transform="translate(79.30,88.13) rotate(-90) scale(0.639,1)" font-family="Liberation Sans, sans-serif" font-size="17.0" fill="#000" stroke="#000" stroke-width="0.3" vector-effect="non-scaling-stroke">1</text>
<text transform="translate(79.30,80.13) rotate(-90) scale(1.047,1)" font-family="Liberation Sans, sans-serif" font-size="17.0" fill="#000" stroke="#000" stroke-width="0.3" vector-effect="non-scaling-stroke">0</text>
<text transform="translate(74.80,69.18) rotate(-90) scale(1.022,1)" font-family="Liberation Sans, sans-serif" font-size="11.1" fill="#000" stroke="#000" stroke-width="0.7" vector-effect="non-scaling-stroke">−</text>
<text transform="translate(74.80,61.31) rotate(-90) scale(0.896,1)" font-family="Liberation Sans, sans-serif" font-size="11.1" fill="#000" stroke="#000" stroke-width="0.35" vector-effect="non-scaling-stroke">6</text>
<text transform="translate(79.30,182.66) rotate(-90) scale(0.639,1)" font-family="Liberation Sans, sans-serif" font-size="17.0" fill="#000" stroke="#000" stroke-width="0.3" vector-effect="non-scaling-stroke">1</text>
<text transform="translate(79.30,174.66) rotate(-90) scale(1.047,1)" font-family="Liberation Sans, sans-serif" font-size="17.0" fill="#000" stroke="#000" stroke-width="0.3" vector-effect="non-scaling-stroke">0</text>
<text transform="translate(74.80,163.72) rotate(-90) scale(1.022,1)" font-family="Liberation Sans, sans-serif" font-size="11.1" fill="#000" stroke="#000" stroke-width="0.7" vector-effect="non-scaling-stroke">−</text>
<text transform="translate(74.80,155.85) rotate(-90) scale(0.911,1)" font-family="Liberation Sans, sans-serif" font-size="11.1" fill="#000" stroke="#000" stroke-width="0.35" vector-effect="non-scaling-stroke">7</text>
<text transform="translate(79.30,277.20) rotate(-90) scale(0.639,1)" font-family="Liberation Sans, sans-serif" font-size="17.0" fill="#000" stroke="#000" stroke-width="0.3" vector-effect="non-scaling-stroke">1</text>
<text transform="translate(79.30,269.19) rotate(-90) scale(1.047,1)" font-family="Liberation Sans, sans-serif" font-size="17.0" fill="#000" stroke="#000" stroke-width="0.3" vector-effect="non-scaling-stroke">0</text>
<text transform="translate(74.80,258.25) rotate(-90) scale(1.022,1)" font-family="Liberation Sans, sans-serif" font-size="11.1" fill="#000" stroke="#000" stroke-width="0.7" vector-effect="non-scaling-stroke">−</text>
<text transform="translate(74.80,250.30) rotate(-90) scale(0.882,1)" font-family="Liberation Sans, sans-serif" font-size="11.1" fill="#000" stroke="#000" stroke-width="0.35" vector-effect="non-scaling-stroke">8</text>
<text transform="translate(279.60,523.80) scale(1.060,1)" font-family="Liberation Serif, serif" font-size="17.0" fill="#000" stroke="#000" stroke-width="0.3" vector-effect="non-scaling-stroke">E</text>
<path d="M290.8,526.8L300.3,511.6" stroke="#000" stroke-width="1.25" fill="none"/>
<text transform="translate(301.44,523.80) scale(0.965,1)" font-family="Liberation Serif, serif" font-size="17.0" fill="#000" stroke="#000" stroke-width="0.3" vector-effect="non-scaling-stroke">GeV</text>
<text transform="translate(38.80,457.16) rotate(-90) scale(1.203,1)" font-family="Liberation Serif, serif" font-size="16.8" fill="#000" stroke="#000" stroke-width="0.3" vector-effect="non-scaling-stroke">Fraction</text>
<text transform="translate(38.80,380.68) rotate(-90) scale(1.086,1)" font-family="Liberation Serif, serif" font-size="16.8" fill="#000" stroke="#000" stroke-width="0.3" vector-effect="non-scaling-stroke">of</text>
<text transform="translate(38.80,351.85) rotate(-90) scale(0.972,1)" font-family="Liberation Serif, serif" font-size="16.8" fill="#000" stroke="#000" stroke-width="0.3" vector-effect="non-scaling-stroke">EGB</text>
<text transform="translate(31.20,291.86) rotate(-90) scale(1.110,1)" font-family="Liberation Serif, serif" font-size="16.0" fill="#000" stroke="#000" stroke-width="0.75" vector-effect="non-scaling-stroke">(E</text>
<text transform="translate(25.90,275.19) rotate(-90) scale(1.068,1)" font-family="Liberation Serif, serif" font-size="10.7" fill="#000" stroke="#000" stroke-width="0.6" vector-effect="non-scaling-stroke">2</text>
<text transform="translate(31.20,260.71) rotate(-90) scale(0.936,1)" font-family="Liberation Serif, serif" font-size="16.0" fill="#000" stroke="#000" stroke-width="0.75" vector-effect="non-scaling-stroke">DN</text>
<text transform="translate(31.20,226.07) rotate(-90) scale(1.195,1)" font-family="Liberation Serif, serif" font-size="16.0" fill="#000" stroke="#000" stroke-width="0.75" vector-effect="non-scaling-stroke">dE)</text>
<text transform="translate(31.20,186.94) rotate(-90) scale(1.084,1)" font-family="Liberation Serif, serif" font-size="16.0" fill="#000" stroke="#000" stroke-width="0.75" vector-effect="non-scaling-stroke">(GeV</text>
<text transform="translate(31.20,140.88) rotate(-90) scale(1.293,1)" font-family="Liberation Serif, serif" font-size="16.0" fill="#000" stroke="#000" stroke-width="0.75" vector-effect="non-scaling-stroke">cm</text>
<text transform="translate(25.90,114.57) rotate(-90) scale(1.065,1)" font-family="Liberation Serif, serif" font-size="10.7" fill="#000" stroke="#000" stroke-width="0.6" vector-effect="non-scaling-stroke">−</text>
<text transform="translate(25.90,107.64) rotate(-90) scale(1.416,1)" font-family="Liberation Serif, serif" font-size="10.7" fill="#000" stroke="#000" stroke-width="0.6" vector-effect="non-scaling-stroke">2</text>
<text transform="translate(31.20,92.36) rotate(-90) scale(1.340,1)" font-family="Liberation Serif, serif" font-size="16.0" fill="#000" stroke="#000" stroke-width="0.75" vector-effect="non-scaling-stroke">s</text>
<text transform="translate(25.90,83.36) rotate(-90) scale(1.045,1)" font-family="Liberation Serif, serif" font-size="10.7" fill="#000" stroke="#000" stroke-width="0.6" vector-effect="non-scaling-stroke">−</text>
<text transform="translate(25.90,75.82) rotate(-90) scale(0.875,1)" font-family="Liberation Serif, serif" font-size="10.7" fill="#000" stroke="#000" stroke-width="0.6" vector-effect="non-scaling-stroke">1</text>
<text transform="translate(31.20,61.45) rotate(-90) scale(1.333,1)" font-family="Liberation Serif, serif" font-size="16.0" fill="#000" stroke="#000" stroke-width="0.75" vector-effect="non-scaling-stroke">sr</text>
<text transform="translate(25.90,43.46) rotate(-90) scale(1.045,1)" font-family="Liberation Serif, serif" font-size="10.7" fill="#000" stroke="#000" stroke-width="0.6" vector-effect="non-scaling-stroke">−</text>
<text transform="translate(25.90,36.52) rotate(-90) scale(0.875,1)" font-family="Liberation Serif, serif" font-size="10.7" fill="#000" stroke="#000" stroke-width="0.6" vector-effect="non-scaling-stroke">1</text>
<text transform="translate(31.20,30.46) rotate(-90) scale(1.262,1)" font-family="Liberation Serif, serif" font-size="16.0" fill="#000" stroke="#000" stroke-width="0.75" vector-effect="non-scaling-stroke">)</text>
<path d="M34.2,237.5L18.4,225.5" stroke="#000" stroke-width="1.6" fill="none"/>
<path d="M34.2,197.4L18.4,186.5" stroke="#000" stroke-width="1.6" fill="none"/>
<text transform="translate(401.45,44.70) scale(0.909,1)" font-family="Liberation Serif, serif" font-size="16.8" fill="#0d36ff" stroke="#0d36ff" stroke-width="1.0" vector-effect="non-scaling-stroke">AGN</text>
<text transform="translate(443.90,44.70) scale(1.187,1)" font-family="Liberation Serif, serif" font-size="16.8" fill="#0d36ff" stroke="#0d36ff" stroke-width="0.55" vector-effect="non-scaling-stroke">winds</text>
<text transform="translate(401.02,63.60) scale(1.263,1)" font-family="Liberation Serif, serif" font-size="16.8" fill="#00f400" stroke="#00f400" stroke-width="0.6" vector-effect="non-scaling-stroke">Blazars</text>
<text transform="translate(401.24,82.70) scale(1.231,1)" font-family="Liberation Serif, serif" font-size="16.8" fill="#ff2a00" stroke="#ff2a00" stroke-width="0.6" vector-effect="non-scaling-stroke">Total</text>
</svg>
</body></html>
